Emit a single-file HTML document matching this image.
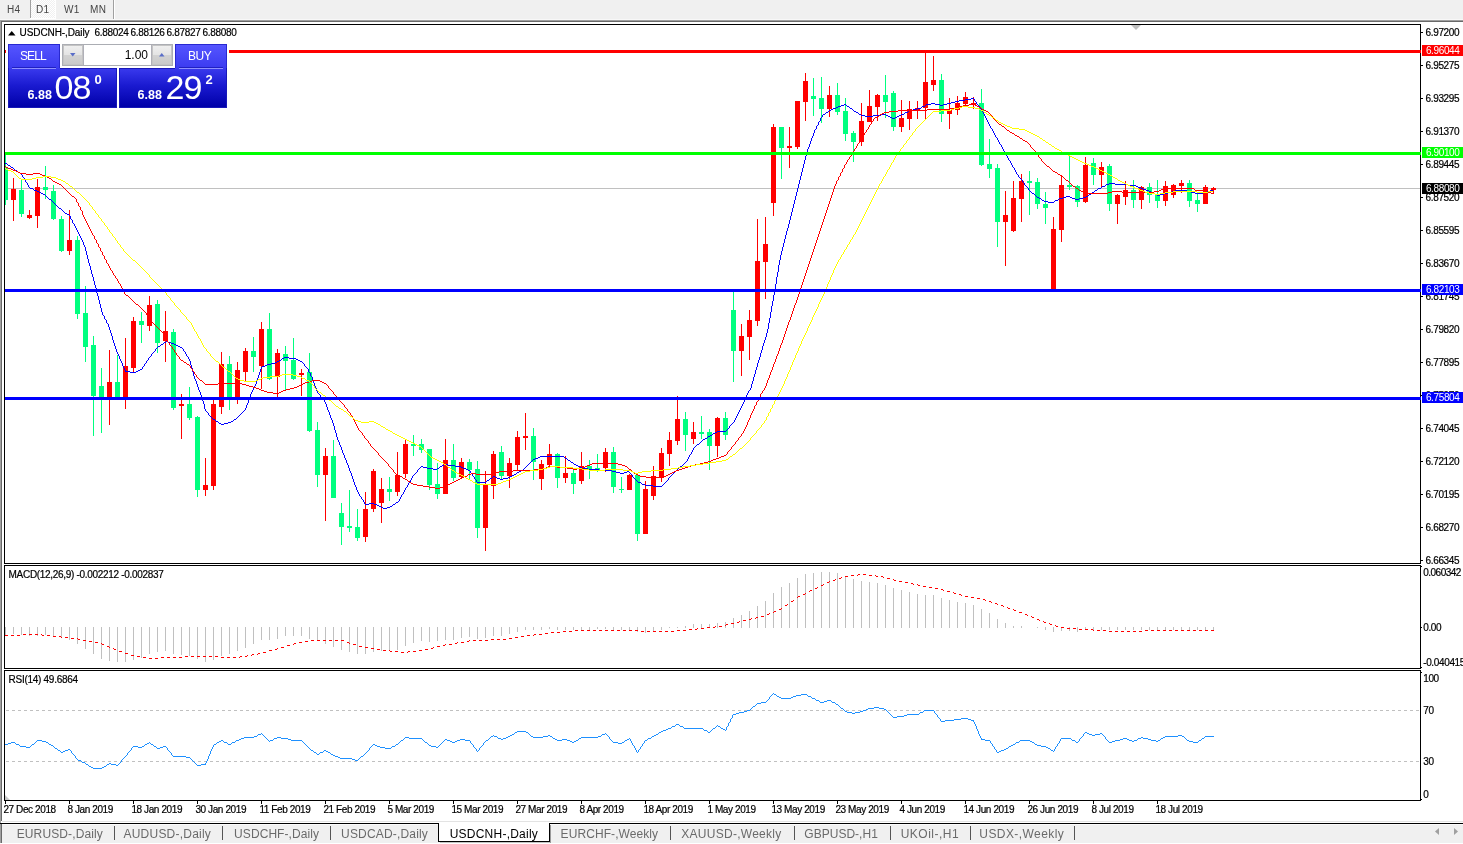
<!DOCTYPE html><html><head><meta charset="utf-8"><title>USDCNH-,Daily</title><style>
html,body{margin:0;padding:0;background:#fff}
body{width:1463px;height:844px;position:relative;overflow:hidden;font-family:"Liberation Sans",sans-serif}
.a{position:absolute}
.t{position:absolute;font-size:10px;line-height:10px;letter-spacing:-0.36px;color:#000;white-space:nowrap;-webkit-text-stroke:0.2px #000}
.pl{left:1425.6px}
.box{position:absolute;left:1422px;width:41px;height:11px}
.box span{position:absolute;left:3.9px;top:1px;font-size:10px;line-height:10px;letter-spacing:-0.36px;color:#fff;white-space:nowrap}
.tb{position:absolute;top:5px;font-size:10px;line-height:10px;color:#444;white-space:nowrap;letter-spacing:0.4px}
.tab{position:absolute;top:827px;font-size:12px;line-height:14px;color:#6a6a6a;white-space:nowrap}
.sep{position:absolute;top:826px;width:1px;height:14px;background:#555}

</style></head><body>
<div class="a" style="left:0;top:0;width:1463px;height:20px;background:#f0f0f0"></div>
<div class="a" style="left:31px;top:0;width:24px;height:18px;background-color:#f8f8f8;background-image:conic-gradient(#fff 25%,#f0f0f0 0 50%,#fff 0 75%,#f0f0f0 0);background-size:2px 2px"></div>
<div class="a" style="left:55px;top:0;width:1px;height:19px;background:#fff"></div>
<div class="a" style="left:30px;top:18px;width:26px;height:1px;background:#fff"></div>
<div class="a" style="left:30px;top:0;width:1px;height:18px;background:#a0a0a0"></div>
<div class="a" style="left:113px;top:0;width:1px;height:20px;background:#a0a0a0"></div>
<div class="a" style="left:114px;top:0;width:1px;height:20px;background:#fff"></div>
<div class="a" style="left:0;top:19px;width:1463px;height:1px;background:#f8f8f8"></div>
<div class="a" style="left:0;top:20px;width:1463px;height:1px;background:#a0a0a0"></div>
<div class="a" style="left:0;top:21px;width:1463px;height:1px;background:#696969"></div>
<div class="tb" style="left:7px">H4</div>
<div class="tb" style="left:36px">D1</div>
<div class="tb" style="left:64px">W1</div>
<div class="tb" style="left:90px">MN</div>
<div class="a" style="left:0;top:20px;width:1px;height:823px;background:#a0a0a0"></div>
<div class="a" style="left:1px;top:21px;width:1px;height:800px;background:#696969"></div>
<svg class="a" style="left:0;top:0" width="1463" height="844" viewBox="0 0 1463 844">
<defs><clipPath id="cm"><rect x="5" y="25" width="1415" height="538"/></clipPath></defs>
<g shape-rendering="crispEdges">
<rect x="4.5" y="24.5" width="1416" height="539" fill="none" stroke="#000" stroke-width="1"/>
<rect x="4.5" y="565.5" width="1416" height="103" fill="none" stroke="#000" stroke-width="1"/>
<rect x="4.5" y="670.5" width="1416" height="130" fill="none" stroke="#000" stroke-width="1"/>
<rect x="5" y="188" width="1415" height="1" fill="#c0c0c0"/>
<g clip-path="url(#cm)">
<rect x="5" y="155" width="1" height="50" fill="#00ff7f"/>
<rect x="3" y="168" width="5" height="32" fill="#00ff7f"/>
<rect x="13" y="178" width="1" height="43" fill="#ff0000"/>
<rect x="11" y="189" width="5" height="11" fill="#ff0000"/>
<rect x="21" y="180" width="1" height="37" fill="#00ff7f"/>
<rect x="19" y="190" width="5" height="24" fill="#00ff7f"/>
<rect x="29" y="210" width="1" height="9" fill="#ff0000"/>
<rect x="27" y="215" width="5" height="3" fill="#ff0000"/>
<rect x="37" y="179" width="1" height="49" fill="#ff0000"/>
<rect x="35" y="187" width="5" height="29" fill="#ff0000"/>
<rect x="45" y="166" width="1" height="33" fill="#00ff7f"/>
<rect x="43" y="187" width="5" height="3" fill="#00ff7f"/>
<rect x="53" y="185" width="1" height="35" fill="#00ff7f"/>
<rect x="51" y="191" width="5" height="28" fill="#00ff7f"/>
<rect x="61" y="216" width="1" height="36" fill="#00ff7f"/>
<rect x="59" y="219" width="5" height="32" fill="#00ff7f"/>
<rect x="69" y="210" width="1" height="45" fill="#ff0000"/>
<rect x="67" y="240" width="5" height="11" fill="#ff0000"/>
<rect x="77" y="236" width="1" height="83" fill="#00ff7f"/>
<rect x="75" y="240" width="5" height="74" fill="#00ff7f"/>
<rect x="85" y="286" width="1" height="76" fill="#00ff7f"/>
<rect x="83" y="313" width="5" height="34" fill="#00ff7f"/>
<rect x="93" y="336" width="1" height="100" fill="#00ff7f"/>
<rect x="91" y="345" width="5" height="51" fill="#00ff7f"/>
<rect x="101" y="368" width="1" height="65" fill="#00ff7f"/>
<rect x="99" y="386" width="5" height="14" fill="#00ff7f"/>
<rect x="109" y="350" width="1" height="75" fill="#ff0000"/>
<rect x="107" y="382" width="5" height="17" fill="#ff0000"/>
<rect x="117" y="355" width="1" height="45" fill="#00ff7f"/>
<rect x="115" y="382" width="5" height="17" fill="#00ff7f"/>
<rect x="125" y="338" width="1" height="71" fill="#ff0000"/>
<rect x="123" y="366" width="5" height="33" fill="#ff0000"/>
<rect x="133" y="317" width="1" height="55" fill="#ff0000"/>
<rect x="131" y="321" width="5" height="47" fill="#ff0000"/>
<rect x="141" y="312" width="1" height="31" fill="#00ff7f"/>
<rect x="139" y="321" width="5" height="4" fill="#00ff7f"/>
<rect x="149" y="296" width="1" height="35" fill="#ff0000"/>
<rect x="147" y="305" width="5" height="21" fill="#ff0000"/>
<rect x="157" y="300" width="1" height="53" fill="#00ff7f"/>
<rect x="155" y="304" width="5" height="39" fill="#00ff7f"/>
<rect x="165" y="311" width="1" height="51" fill="#ff0000"/>
<rect x="163" y="331" width="5" height="10" fill="#ff0000"/>
<rect x="173" y="329" width="1" height="81" fill="#00ff7f"/>
<rect x="171" y="332" width="5" height="76" fill="#00ff7f"/>
<rect x="181" y="394" width="1" height="45" fill="#ff0000"/>
<rect x="179" y="404" width="5" height="2" fill="#ff0000"/>
<rect x="189" y="387" width="1" height="33" fill="#00ff7f"/>
<rect x="187" y="404" width="5" height="14" fill="#00ff7f"/>
<rect x="197" y="416" width="1" height="81" fill="#00ff7f"/>
<rect x="195" y="417" width="5" height="73" fill="#00ff7f"/>
<rect x="205" y="458" width="1" height="38" fill="#ff0000"/>
<rect x="203" y="485" width="5" height="5" fill="#ff0000"/>
<rect x="213" y="399" width="1" height="91" fill="#ff0000"/>
<rect x="211" y="404" width="5" height="82" fill="#ff0000"/>
<rect x="221" y="352" width="1" height="62" fill="#ff0000"/>
<rect x="219" y="364" width="5" height="43" fill="#ff0000"/>
<rect x="229" y="356" width="1" height="54" fill="#00ff7f"/>
<rect x="227" y="364" width="5" height="34" fill="#00ff7f"/>
<rect x="237" y="362" width="1" height="42" fill="#ff0000"/>
<rect x="235" y="370" width="5" height="28" fill="#ff0000"/>
<rect x="245" y="348" width="1" height="33" fill="#ff0000"/>
<rect x="243" y="351" width="5" height="21" fill="#ff0000"/>
<rect x="253" y="337" width="1" height="35" fill="#00ff7f"/>
<rect x="251" y="351" width="5" height="6" fill="#00ff7f"/>
<rect x="261" y="322" width="1" height="67" fill="#ff0000"/>
<rect x="259" y="329" width="5" height="37" fill="#ff0000"/>
<rect x="269" y="313" width="1" height="67" fill="#00ff7f"/>
<rect x="267" y="329" width="5" height="50" fill="#00ff7f"/>
<rect x="277" y="349" width="1" height="48" fill="#ff0000"/>
<rect x="275" y="353" width="5" height="24" fill="#ff0000"/>
<rect x="285" y="346" width="1" height="44" fill="#00ff7f"/>
<rect x="283" y="354" width="5" height="7" fill="#00ff7f"/>
<rect x="293" y="338" width="1" height="42" fill="#00ff7f"/>
<rect x="291" y="360" width="5" height="19" fill="#00ff7f"/>
<rect x="301" y="369" width="1" height="27" fill="#ff0000"/>
<rect x="299" y="373" width="5" height="2" fill="#ff0000"/>
<rect x="309" y="353" width="1" height="79" fill="#00ff7f"/>
<rect x="307" y="372" width="5" height="59" fill="#00ff7f"/>
<rect x="317" y="422" width="1" height="65" fill="#00ff7f"/>
<rect x="315" y="430" width="5" height="45" fill="#00ff7f"/>
<rect x="325" y="448" width="1" height="73" fill="#ff0000"/>
<rect x="323" y="456" width="5" height="19" fill="#ff0000"/>
<rect x="333" y="440" width="1" height="58" fill="#00ff7f"/>
<rect x="331" y="456" width="5" height="42" fill="#00ff7f"/>
<rect x="341" y="503" width="1" height="42" fill="#00ff7f"/>
<rect x="339" y="513" width="5" height="14" fill="#00ff7f"/>
<rect x="349" y="490" width="1" height="42" fill="#00ff7f"/>
<rect x="347" y="526" width="5" height="2" fill="#00ff7f"/>
<rect x="357" y="509" width="1" height="32" fill="#00ff7f"/>
<rect x="355" y="527" width="5" height="11" fill="#00ff7f"/>
<rect x="365" y="492" width="1" height="50" fill="#ff0000"/>
<rect x="363" y="509" width="5" height="28" fill="#ff0000"/>
<rect x="373" y="469" width="1" height="43" fill="#ff0000"/>
<rect x="371" y="471" width="5" height="38" fill="#ff0000"/>
<rect x="381" y="478" width="1" height="45" fill="#ff0000"/>
<rect x="379" y="489" width="5" height="14" fill="#ff0000"/>
<rect x="389" y="477" width="1" height="24" fill="#00ff7f"/>
<rect x="387" y="489" width="5" height="3" fill="#00ff7f"/>
<rect x="397" y="452" width="1" height="44" fill="#ff0000"/>
<rect x="395" y="475" width="5" height="17" fill="#ff0000"/>
<rect x="405" y="439" width="1" height="39" fill="#ff0000"/>
<rect x="403" y="444" width="5" height="30" fill="#ff0000"/>
<rect x="413" y="435" width="1" height="21" fill="#00ff7f"/>
<rect x="411" y="444" width="5" height="2" fill="#00ff7f"/>
<rect x="421" y="439" width="1" height="14" fill="#00ff7f"/>
<rect x="419" y="444" width="5" height="6" fill="#00ff7f"/>
<rect x="429" y="449" width="1" height="41" fill="#00ff7f"/>
<rect x="427" y="449" width="5" height="36" fill="#00ff7f"/>
<rect x="437" y="463" width="1" height="36" fill="#00ff7f"/>
<rect x="435" y="484" width="5" height="10" fill="#00ff7f"/>
<rect x="445" y="439" width="1" height="55" fill="#ff0000"/>
<rect x="443" y="460" width="5" height="34" fill="#ff0000"/>
<rect x="453" y="444" width="1" height="37" fill="#00ff7f"/>
<rect x="451" y="460" width="5" height="18" fill="#00ff7f"/>
<rect x="461" y="458" width="1" height="20" fill="#ff0000"/>
<rect x="459" y="462" width="5" height="15" fill="#ff0000"/>
<rect x="469" y="459" width="1" height="21" fill="#00ff7f"/>
<rect x="467" y="462" width="5" height="8" fill="#00ff7f"/>
<rect x="477" y="461" width="1" height="77" fill="#00ff7f"/>
<rect x="475" y="469" width="5" height="59" fill="#00ff7f"/>
<rect x="485" y="471" width="1" height="80" fill="#ff0000"/>
<rect x="483" y="485" width="5" height="43" fill="#ff0000"/>
<rect x="493" y="451" width="1" height="48" fill="#ff0000"/>
<rect x="491" y="454" width="5" height="32" fill="#ff0000"/>
<rect x="501" y="446" width="1" height="33" fill="#00ff7f"/>
<rect x="499" y="452" width="5" height="24" fill="#00ff7f"/>
<rect x="509" y="458" width="1" height="30" fill="#ff0000"/>
<rect x="507" y="463" width="5" height="13" fill="#ff0000"/>
<rect x="517" y="431" width="1" height="40" fill="#ff0000"/>
<rect x="515" y="437" width="5" height="28" fill="#ff0000"/>
<rect x="525" y="413" width="1" height="37" fill="#ff0000"/>
<rect x="523" y="436" width="5" height="2" fill="#ff0000"/>
<rect x="533" y="428" width="1" height="52" fill="#00ff7f"/>
<rect x="531" y="436" width="5" height="26" fill="#00ff7f"/>
<rect x="541" y="460" width="1" height="30" fill="#ff0000"/>
<rect x="539" y="464" width="5" height="15" fill="#ff0000"/>
<rect x="549" y="444" width="1" height="23" fill="#ff0000"/>
<rect x="547" y="454" width="5" height="11" fill="#ff0000"/>
<rect x="557" y="453" width="1" height="35" fill="#00ff7f"/>
<rect x="555" y="454" width="5" height="24" fill="#00ff7f"/>
<rect x="565" y="456" width="1" height="27" fill="#ff0000"/>
<rect x="563" y="473" width="5" height="5" fill="#ff0000"/>
<rect x="573" y="470" width="1" height="24" fill="#00ff7f"/>
<rect x="571" y="473" width="5" height="11" fill="#00ff7f"/>
<rect x="581" y="452" width="1" height="32" fill="#ff0000"/>
<rect x="579" y="466" width="5" height="15" fill="#ff0000"/>
<rect x="589" y="460" width="1" height="19" fill="#00ff7f"/>
<rect x="587" y="466" width="5" height="4" fill="#00ff7f"/>
<rect x="597" y="454" width="1" height="18" fill="#00ff7f"/>
<rect x="595" y="468" width="5" height="2" fill="#00ff7f"/>
<rect x="605" y="448" width="1" height="24" fill="#ff0000"/>
<rect x="603" y="452" width="5" height="16" fill="#ff0000"/>
<rect x="613" y="447" width="1" height="46" fill="#00ff7f"/>
<rect x="611" y="452" width="5" height="35" fill="#00ff7f"/>
<rect x="621" y="477" width="1" height="16" fill="#00ff7f"/>
<rect x="619" y="489" width="5" height="1" fill="#00ff7f"/>
<rect x="629" y="474" width="1" height="16" fill="#ff0000"/>
<rect x="627" y="475" width="5" height="15" fill="#ff0000"/>
<rect x="637" y="475" width="1" height="66" fill="#00ff7f"/>
<rect x="635" y="475" width="5" height="59" fill="#00ff7f"/>
<rect x="645" y="481" width="1" height="53" fill="#ff0000"/>
<rect x="643" y="489" width="5" height="45" fill="#ff0000"/>
<rect x="653" y="466" width="1" height="34" fill="#ff0000"/>
<rect x="651" y="476" width="5" height="20" fill="#ff0000"/>
<rect x="661" y="448" width="1" height="34" fill="#ff0000"/>
<rect x="659" y="453" width="5" height="24" fill="#ff0000"/>
<rect x="669" y="432" width="1" height="34" fill="#ff0000"/>
<rect x="667" y="440" width="5" height="14" fill="#ff0000"/>
<rect x="677" y="396" width="1" height="49" fill="#ff0000"/>
<rect x="675" y="419" width="5" height="22" fill="#ff0000"/>
<rect x="685" y="412" width="1" height="39" fill="#00ff7f"/>
<rect x="683" y="419" width="5" height="16" fill="#00ff7f"/>
<rect x="693" y="422" width="1" height="22" fill="#ff0000"/>
<rect x="691" y="432" width="5" height="7" fill="#ff0000"/>
<rect x="701" y="416" width="1" height="23" fill="#00ff7f"/>
<rect x="699" y="432" width="5" height="2" fill="#00ff7f"/>
<rect x="709" y="429" width="1" height="41" fill="#00ff7f"/>
<rect x="707" y="432" width="5" height="14" fill="#00ff7f"/>
<rect x="717" y="417" width="1" height="40" fill="#ff0000"/>
<rect x="715" y="418" width="5" height="28" fill="#ff0000"/>
<rect x="725" y="412" width="1" height="28" fill="#00ff7f"/>
<rect x="723" y="418" width="5" height="17" fill="#00ff7f"/>
<rect x="733" y="289" width="1" height="93" fill="#00ff7f"/>
<rect x="731" y="310" width="5" height="41" fill="#00ff7f"/>
<rect x="741" y="324" width="1" height="52" fill="#ff0000"/>
<rect x="739" y="336" width="5" height="15" fill="#ff0000"/>
<rect x="749" y="310" width="1" height="50" fill="#ff0000"/>
<rect x="747" y="320" width="5" height="17" fill="#ff0000"/>
<rect x="757" y="219" width="1" height="107" fill="#ff0000"/>
<rect x="755" y="261" width="5" height="60" fill="#ff0000"/>
<rect x="765" y="217" width="1" height="82" fill="#ff0000"/>
<rect x="763" y="244" width="5" height="18" fill="#ff0000"/>
<rect x="773" y="124" width="1" height="92" fill="#ff0000"/>
<rect x="771" y="127" width="5" height="76" fill="#ff0000"/>
<rect x="781" y="127" width="1" height="52" fill="#00ff7f"/>
<rect x="779" y="127" width="5" height="21" fill="#00ff7f"/>
<rect x="789" y="127" width="1" height="41" fill="#ff0000"/>
<rect x="787" y="146" width="5" height="2" fill="#ff0000"/>
<rect x="797" y="101" width="1" height="48" fill="#ff0000"/>
<rect x="795" y="101" width="5" height="46" fill="#ff0000"/>
<rect x="805" y="73" width="1" height="48" fill="#ff0000"/>
<rect x="803" y="81" width="5" height="21" fill="#ff0000"/>
<rect x="813" y="78" width="1" height="38" fill="#00ff7f"/>
<rect x="811" y="96" width="5" height="3" fill="#00ff7f"/>
<rect x="821" y="77" width="1" height="46" fill="#00ff7f"/>
<rect x="819" y="98" width="5" height="11" fill="#00ff7f"/>
<rect x="829" y="86" width="1" height="31" fill="#ff0000"/>
<rect x="827" y="95" width="5" height="14" fill="#ff0000"/>
<rect x="837" y="83" width="1" height="32" fill="#00ff7f"/>
<rect x="835" y="95" width="5" height="17" fill="#00ff7f"/>
<rect x="845" y="98" width="1" height="43" fill="#00ff7f"/>
<rect x="843" y="111" width="5" height="23" fill="#00ff7f"/>
<rect x="853" y="131" width="1" height="31" fill="#00ff7f"/>
<rect x="851" y="133" width="5" height="9" fill="#00ff7f"/>
<rect x="861" y="103" width="1" height="43" fill="#ff0000"/>
<rect x="859" y="121" width="5" height="21" fill="#ff0000"/>
<rect x="869" y="90" width="1" height="32" fill="#ff0000"/>
<rect x="867" y="106" width="5" height="16" fill="#ff0000"/>
<rect x="877" y="94" width="1" height="27" fill="#ff0000"/>
<rect x="875" y="95" width="5" height="12" fill="#ff0000"/>
<rect x="885" y="75" width="1" height="43" fill="#00ff7f"/>
<rect x="883" y="95" width="5" height="7" fill="#00ff7f"/>
<rect x="893" y="91" width="1" height="40" fill="#00ff7f"/>
<rect x="891" y="93" width="5" height="34" fill="#00ff7f"/>
<rect x="901" y="100" width="1" height="32" fill="#ff0000"/>
<rect x="899" y="118" width="5" height="9" fill="#ff0000"/>
<rect x="909" y="101" width="1" height="29" fill="#ff0000"/>
<rect x="907" y="109" width="5" height="10" fill="#ff0000"/>
<rect x="917" y="101" width="1" height="18" fill="#ff0000"/>
<rect x="915" y="108" width="5" height="2" fill="#ff0000"/>
<rect x="925" y="53" width="1" height="66" fill="#ff0000"/>
<rect x="923" y="82" width="5" height="26" fill="#ff0000"/>
<rect x="933" y="56" width="1" height="35" fill="#ff0000"/>
<rect x="931" y="80" width="5" height="5" fill="#ff0000"/>
<rect x="941" y="74" width="1" height="48" fill="#00ff7f"/>
<rect x="939" y="80" width="5" height="34" fill="#00ff7f"/>
<rect x="949" y="98" width="1" height="31" fill="#ff0000"/>
<rect x="947" y="110" width="5" height="4" fill="#ff0000"/>
<rect x="957" y="96" width="1" height="19" fill="#ff0000"/>
<rect x="955" y="103" width="5" height="7" fill="#ff0000"/>
<rect x="965" y="92" width="1" height="14" fill="#ff0000"/>
<rect x="963" y="97" width="5" height="7" fill="#ff0000"/>
<rect x="973" y="97" width="1" height="12" fill="#ff0000"/>
<rect x="971" y="103" width="5" height="2" fill="#ff0000"/>
<rect x="981" y="89" width="1" height="77" fill="#00ff7f"/>
<rect x="979" y="103" width="5" height="62" fill="#00ff7f"/>
<rect x="989" y="139" width="1" height="39" fill="#00ff7f"/>
<rect x="987" y="164" width="5" height="5" fill="#00ff7f"/>
<rect x="997" y="164" width="1" height="83" fill="#00ff7f"/>
<rect x="995" y="168" width="5" height="54" fill="#00ff7f"/>
<rect x="1005" y="191" width="1" height="75" fill="#ff0000"/>
<rect x="1003" y="215" width="5" height="7" fill="#ff0000"/>
<rect x="1013" y="181" width="1" height="51" fill="#ff0000"/>
<rect x="1011" y="198" width="5" height="33" fill="#ff0000"/>
<rect x="1021" y="174" width="1" height="48" fill="#ff0000"/>
<rect x="1019" y="181" width="5" height="18" fill="#ff0000"/>
<rect x="1029" y="171" width="1" height="44" fill="#00ff7f"/>
<rect x="1027" y="181" width="5" height="2" fill="#00ff7f"/>
<rect x="1037" y="178" width="1" height="31" fill="#00ff7f"/>
<rect x="1035" y="182" width="5" height="22" fill="#00ff7f"/>
<rect x="1045" y="192" width="1" height="32" fill="#00ff7f"/>
<rect x="1043" y="204" width="5" height="4" fill="#00ff7f"/>
<rect x="1053" y="217" width="1" height="74" fill="#ff0000"/>
<rect x="1051" y="229" width="5" height="60" fill="#ff0000"/>
<rect x="1061" y="176" width="1" height="66" fill="#ff0000"/>
<rect x="1059" y="185" width="5" height="45" fill="#ff0000"/>
<rect x="1069" y="156" width="1" height="34" fill="#00ff7f"/>
<rect x="1067" y="185" width="5" height="2" fill="#00ff7f"/>
<rect x="1077" y="185" width="1" height="22" fill="#00ff7f"/>
<rect x="1075" y="186" width="5" height="16" fill="#00ff7f"/>
<rect x="1085" y="157" width="1" height="46" fill="#ff0000"/>
<rect x="1083" y="165" width="5" height="37" fill="#ff0000"/>
<rect x="1093" y="158" width="1" height="27" fill="#00ff7f"/>
<rect x="1091" y="163" width="5" height="12" fill="#00ff7f"/>
<rect x="1101" y="162" width="1" height="25" fill="#ff0000"/>
<rect x="1099" y="167" width="5" height="8" fill="#ff0000"/>
<rect x="1109" y="164" width="1" height="47" fill="#00ff7f"/>
<rect x="1107" y="166" width="5" height="38" fill="#00ff7f"/>
<rect x="1117" y="194" width="1" height="30" fill="#ff0000"/>
<rect x="1115" y="195" width="5" height="9" fill="#ff0000"/>
<rect x="1125" y="181" width="1" height="24" fill="#ff0000"/>
<rect x="1123" y="190" width="5" height="7" fill="#ff0000"/>
<rect x="1133" y="180" width="1" height="28" fill="#00ff7f"/>
<rect x="1131" y="190" width="5" height="10" fill="#00ff7f"/>
<rect x="1141" y="186" width="1" height="23" fill="#ff0000"/>
<rect x="1139" y="187" width="5" height="13" fill="#ff0000"/>
<rect x="1149" y="183" width="1" height="20" fill="#00ff7f"/>
<rect x="1147" y="187" width="5" height="8" fill="#00ff7f"/>
<rect x="1157" y="180" width="1" height="28" fill="#00ff7f"/>
<rect x="1155" y="195" width="5" height="6" fill="#00ff7f"/>
<rect x="1165" y="181" width="1" height="25" fill="#ff0000"/>
<rect x="1163" y="186" width="5" height="15" fill="#ff0000"/>
<rect x="1173" y="184" width="1" height="14" fill="#ff0000"/>
<rect x="1171" y="185" width="5" height="10" fill="#ff0000"/>
<rect x="1181" y="180" width="1" height="13" fill="#ff0000"/>
<rect x="1179" y="183" width="5" height="3" fill="#ff0000"/>
<rect x="1189" y="180" width="1" height="27" fill="#00ff7f"/>
<rect x="1187" y="183" width="5" height="18" fill="#00ff7f"/>
<rect x="1197" y="194" width="1" height="18" fill="#00ff7f"/>
<rect x="1195" y="200" width="5" height="4" fill="#00ff7f"/>
<rect x="1205" y="185" width="1" height="19" fill="#ff0000"/>
<rect x="1203" y="187" width="5" height="17" fill="#ff0000"/>
<rect x="1213" y="187" width="1" height="7" fill="#ff0000"/>
<rect x="1211" y="188" width="5" height="2" fill="#ff0000"/>
<path d="M4.5 162v1M5.5 163v1M6.5 163v1M7.5 164v1M8.5 165v1M9.5 165v1M10.5 166v1M11.5 167v1M12.5 167v1M13.5 168v1M14.5 169v1M15.5 170v1M16.5 170v1M17.5 171v1M18.5 172v1M19.5 172v1M20.5 173v1M21.5 174v1M22.5 175v2M23.5 177v1M24.5 178v2M25.5 180v2M26.5 182v1M27.5 183v2M28.5 185v2M29.5 187v1M30.5 188v1M31.5 188v1M32.5 188v1M33.5 189v1M34.5 190v1M35.5 190v1M36.5 190v1M37.5 191v1M38.5 191v1M39.5 192v1M40.5 192v1M41.5 193v1M42.5 193v1M43.5 194v1M44.5 194v1M45.5 195v1M46.5 196v1M47.5 197v1M48.5 198v1M49.5 199v1M50.5 199v1M51.5 200v1M52.5 201v1M53.5 202v1M54.5 203v1M55.5 204v1M56.5 205v1M57.5 206v1M58.5 207v1M59.5 208v1M60.5 208v1M61.5 209v1M62.5 210v1M63.5 211v1M64.5 212v1M65.5 213v1M66.5 213v1M67.5 214v1M68.5 214v1M69.5 215v1M70.5 216v3M71.5 219v1M72.5 220v3M73.5 223v1M74.5 224v2M75.5 226v2M76.5 228v2M77.5 230v2M78.5 232v2M79.5 234v2M80.5 236v2M81.5 238v2M82.5 240v2M83.5 242v3M84.5 245v2M85.5 247v4M86.5 251v4M87.5 255v4M88.5 259v4M89.5 263v3M90.5 266v4M91.5 270v4M92.5 274v3M93.5 277v4M94.5 281v4M95.5 285v3M96.5 288v5M97.5 293v3M98.5 296v4M99.5 300v4M100.5 304v4M101.5 308v4M102.5 312v3M103.5 315v1M104.5 316v3M105.5 319v1M106.5 320v3M107.5 323v1M108.5 324v3M109.5 327v3M110.5 330v3M111.5 333v3M112.5 336v4M113.5 340v3M114.5 343v3M115.5 346v3M116.5 349v3M117.5 352v2M118.5 354v2M119.5 356v3M120.5 359v2M121.5 361v2M122.5 363v3M123.5 366v2M124.5 368v2M125.5 370v2M126.5 371v1M127.5 371v1M128.5 371v1M129.5 371v1M130.5 372v1M131.5 372v1M132.5 372v1M133.5 372v1M134.5 372v1M135.5 372v1M136.5 371v1M137.5 371v1M138.5 370v1M139.5 370v1M140.5 369v1M141.5 369v1M142.5 367v2M143.5 366v1M144.5 364v2M145.5 363v1M146.5 361v2M147.5 360v1M148.5 358v2M149.5 357v1M150.5 356v1M151.5 354v2M152.5 353v1M153.5 352v1M154.5 351v1M155.5 349v2M156.5 348v1M157.5 347v1M158.5 346v1M159.5 346v1M160.5 345v1M161.5 344v1M162.5 344v1M163.5 343v1M164.5 342v1M165.5 342v1M166.5 341v1M167.5 341v1M168.5 342v1M169.5 342v1M170.5 342v1M171.5 343v1M172.5 343v1M173.5 343v1M174.5 344v1M175.5 344v1M176.5 345v1M177.5 345v1M178.5 346v1M179.5 346v1M180.5 347v1M181.5 347v1M182.5 348v1M183.5 349v2M184.5 351v1M185.5 352v2M186.5 354v2M187.5 356v1M188.5 357v2M189.5 359v2M190.5 361v4M191.5 365v3M192.5 368v4M193.5 372v4M194.5 376v3M195.5 379v2M196.5 381v3M197.5 384v3M198.5 387v3M199.5 390v2M200.5 392v3M201.5 395v2M202.5 397v4M203.5 401v3M204.5 404v5M205.5 409v2M206.5 411v1M207.5 412v1M208.5 413v2M209.5 415v1M210.5 416v1M211.5 417v1M212.5 418v1M213.5 419v1M214.5 419v1M215.5 420v1M216.5 421v1M217.5 421v1M218.5 422v1M219.5 423v1M220.5 423v1M221.5 424v1M222.5 424v1M223.5 424v1M224.5 423v1M225.5 423v1M226.5 423v1M227.5 423v1M228.5 422v1M229.5 422v1M230.5 422v1M231.5 421v1M232.5 421v1M233.5 420v1M234.5 419v1M235.5 419v1M236.5 418v1M237.5 417v1M238.5 416v1M239.5 415v1M240.5 414v1M241.5 413v1M242.5 412v1M243.5 411v1M244.5 410v1M245.5 408v2M246.5 405v3M247.5 403v2M248.5 400v3M249.5 397v3M250.5 394v3M251.5 392v2M252.5 390v2M253.5 388v2M254.5 386v2M255.5 384v2M256.5 381v3M257.5 378v3M258.5 375v3M259.5 372v3M260.5 369v3M261.5 367v2M262.5 366v1M263.5 366v1M264.5 366v1M265.5 365v1M266.5 365v1M267.5 364v1M268.5 364v1M269.5 364v1M270.5 364v1M271.5 363v1M272.5 363v1M273.5 363v1M274.5 363v1M275.5 362v1M276.5 362v1M277.5 361v1M278.5 361v1M279.5 360v1M280.5 360v1M281.5 359v1M282.5 358v1M283.5 358v1M284.5 357v1M285.5 357v1M286.5 357v1M287.5 357v1M288.5 357v1M289.5 358v1M290.5 358v1M291.5 358v1M292.5 358v1M293.5 358v1M294.5 358v1M295.5 358v1M296.5 359v1M297.5 359v1M298.5 360v1M299.5 360v1M300.5 361v1M301.5 361v1M302.5 362v1M303.5 363v1M304.5 364v2M305.5 366v1M306.5 367v1M307.5 368v1M308.5 369v3M309.5 372v1M310.5 373v3M311.5 376v1M312.5 377v3M313.5 380v3M314.5 383v3M315.5 386v2M316.5 388v3M317.5 391v2M318.5 393v1M319.5 394v1M320.5 395v2M321.5 397v1M322.5 398v1M323.5 399v1M324.5 400v2M325.5 402v2M326.5 404v3M327.5 407v3M328.5 410v2M329.5 412v3M330.5 415v3M331.5 418v2M332.5 420v3M333.5 423v3M334.5 426v4M335.5 430v3M336.5 433v4M337.5 437v3M338.5 440v2M339.5 442v3M340.5 445v2M341.5 447v3M342.5 450v3M343.5 453v2M344.5 455v3M345.5 458v2M346.5 460v3M347.5 463v2M348.5 465v3M349.5 468v3M350.5 471v2M351.5 473v3M352.5 476v3M353.5 479v3M354.5 482v3M355.5 485v2M356.5 487v3M357.5 490v2M358.5 492v2M359.5 494v2M360.5 496v1M361.5 497v2M362.5 499v1M363.5 500v2M364.5 502v2M365.5 504v1M366.5 504v1M367.5 504v1M368.5 504v1M369.5 503v1M370.5 503v1M371.5 503v1M372.5 503v1M373.5 503v1M374.5 504v1M375.5 504v1M376.5 504v1M377.5 505v1M378.5 505v1M379.5 506v1M380.5 506v1M381.5 507v1M382.5 507v1M383.5 508v1M384.5 508v1M385.5 508v1M386.5 508v1M387.5 507v1M388.5 507v1M389.5 507v1M390.5 506v1M391.5 506v1M392.5 505v1M393.5 504v1M394.5 504v1M395.5 503v1M396.5 502v1M397.5 502v1M398.5 501v1M399.5 499v2M400.5 497v2M401.5 495v2M402.5 494v1M403.5 492v2M404.5 490v2M405.5 488v2M406.5 487v1M407.5 485v2M408.5 483v2M409.5 482v1M410.5 480v2M411.5 478v2M412.5 476v2M413.5 475v1M414.5 474v1M415.5 473v1M416.5 472v1M417.5 470v2M418.5 469v1M419.5 468v1M420.5 467v1M421.5 466v1M422.5 466v1M423.5 467v1M424.5 467v1M425.5 467v1M426.5 467v1M427.5 468v1M428.5 468v1M429.5 468v1M430.5 468v1M431.5 468v1M432.5 468v1M433.5 469v1M434.5 469v1M435.5 469v1M436.5 469v1M437.5 468v1M438.5 468v1M439.5 467v1M440.5 466v1M441.5 466v1M442.5 465v1M443.5 465v1M444.5 464v1M445.5 464v1M446.5 464v1M447.5 464v1M448.5 465v1M449.5 465v1M450.5 465v1M451.5 465v1M452.5 465v1M453.5 465v1M454.5 465v1M455.5 466v1M456.5 466v1M457.5 466v1M458.5 466v1M459.5 466v1M460.5 466v1M461.5 467v1M462.5 467v1M463.5 468v1M464.5 468v1M465.5 468v1M466.5 469v1M467.5 469v1M468.5 470v1M469.5 470v1M470.5 471v2M471.5 473v1M472.5 474v2M473.5 476v1M474.5 477v2M475.5 479v1M476.5 480v2M477.5 482v1M478.5 482v1M479.5 482v1M480.5 482v1M481.5 482v1M482.5 482v1M483.5 482v1M484.5 482v1M485.5 482v1M486.5 481v1M487.5 480v1M488.5 480v1M489.5 479v1M490.5 478v1M491.5 478v1M492.5 477v1M493.5 476v1M494.5 476v1M495.5 477v1M496.5 477v1M497.5 478v1M498.5 478v1M499.5 478v1M500.5 479v1M501.5 479v1M502.5 479v1M503.5 478v1M504.5 478v1M505.5 478v1M506.5 478v1M507.5 478v1M508.5 477v1M509.5 477v1M510.5 476v1M511.5 476v1M512.5 475v1M513.5 475v1M514.5 474v1M515.5 474v1M516.5 473v1M517.5 472v1M518.5 472v1M519.5 471v1M520.5 471v1M521.5 470v1M522.5 470v1M523.5 469v1M524.5 468v1M525.5 467v1M526.5 466v1M527.5 465v1M528.5 464v1M529.5 463v1M530.5 462v1M531.5 461v1M532.5 460v1M533.5 459v1M534.5 459v1M535.5 458v1M536.5 458v1M537.5 458v1M538.5 457v1M539.5 457v1M540.5 456v1M541.5 456v1M542.5 456v1M543.5 456v1M544.5 456v1M545.5 456v1M546.5 456v1M547.5 456v1M548.5 456v1M549.5 456v1M550.5 456v1M551.5 456v1M552.5 456v1M553.5 456v1M554.5 456v1M555.5 456v1M556.5 456v1M557.5 456v1M558.5 456v1M559.5 456v1M560.5 456v1M561.5 456v1M562.5 456v1M563.5 456v1M564.5 457v1M565.5 458v1M566.5 458v1M567.5 459v1M568.5 460v1M569.5 460v1M570.5 461v1M571.5 462v1M572.5 462v1M573.5 463v1M574.5 464v1M575.5 464v1M576.5 465v1M577.5 465v1M578.5 466v1M579.5 466v1M580.5 467v1M581.5 467v1M582.5 467v1M583.5 468v1M584.5 468v1M585.5 468v1M586.5 468v1M587.5 468v1M588.5 469v1M589.5 469v1M590.5 469v1M591.5 469v1M592.5 469v1M593.5 469v1M594.5 469v1M595.5 469v1M596.5 469v1M597.5 469v1M598.5 469v1M599.5 470v1M600.5 470v1M601.5 470v1M602.5 470v1M603.5 470v1M604.5 470v1M605.5 470v1M606.5 470v1M607.5 470v1M608.5 470v1M609.5 470v1M610.5 470v1M611.5 470v1M612.5 471v1M613.5 471v1M614.5 471v1M615.5 471v1M616.5 472v1M617.5 472v1M618.5 472v1M619.5 472v1M620.5 473v1M621.5 473v1M622.5 473v1M623.5 473v1M624.5 472v1M625.5 472v1M626.5 472v1M627.5 471v1M628.5 471v1M629.5 472v1M630.5 473v1M631.5 474v1M632.5 475v2M633.5 477v1M634.5 478v1M635.5 479v1M636.5 480v1M637.5 481v1M638.5 482v1M639.5 482v1M640.5 482v1M641.5 483v1M642.5 484v1M643.5 484v1M644.5 484v1M645.5 485v1M646.5 485v1M647.5 485v1M648.5 485v1M649.5 485v1M650.5 485v1M651.5 485v1M652.5 485v1M653.5 486v1M654.5 486v1M655.5 486v1M656.5 486v1M657.5 486v1M658.5 486v1M659.5 486v1M660.5 486v1M661.5 486v1M662.5 485v1M663.5 484v1M664.5 483v1M665.5 482v1M666.5 481v1M667.5 480v1M668.5 478v2M669.5 477v1M670.5 476v1M671.5 475v1M672.5 474v1M673.5 473v1M674.5 472v1M675.5 471v1M676.5 470v1M677.5 469v1M678.5 468v1M679.5 467v1M680.5 466v1M681.5 466v1M682.5 465v1M683.5 464v1M684.5 463v1M685.5 462v1M686.5 461v1M687.5 459v2M688.5 457v2M689.5 455v2M690.5 454v1M691.5 452v2M692.5 450v2M693.5 448v2M694.5 447v1M695.5 446v1M696.5 445v1M697.5 444v1M698.5 444v1M699.5 443v1M700.5 442v1M701.5 441v1M702.5 440v1M703.5 439v1M704.5 439v1M705.5 438v1M706.5 438v1M707.5 437v1M708.5 436v1M709.5 436v1M710.5 435v1M711.5 435v1M712.5 434v1M713.5 433v1M714.5 433v1M715.5 432v1M716.5 432v1M717.5 431v1M718.5 431v1M719.5 431v1M720.5 431v1M721.5 431v1M722.5 431v1M723.5 431v1M724.5 431v1M725.5 431v1M726.5 430v1M727.5 429v1M728.5 428v1M729.5 426v2M730.5 425v1M731.5 424v1M732.5 423v1M733.5 422v1M734.5 420v2M735.5 418v2M736.5 416v2M737.5 414v2M738.5 412v2M739.5 410v2M740.5 408v2M741.5 406v2M742.5 404v2M743.5 402v2M744.5 399v3M745.5 397v2M746.5 395v2M747.5 393v2M748.5 391v2M749.5 390v1M750.5 388v2M751.5 384v4M752.5 381v3M753.5 377v4M754.5 374v3M755.5 370v4M756.5 367v3M757.5 363v4M758.5 360v3M759.5 357v3M760.5 353v4M761.5 350v3M762.5 346v4M763.5 343v3M764.5 340v3M765.5 337v3M766.5 333v4M767.5 329v4M768.5 323v6M769.5 318v5M770.5 312v6M771.5 306v6M772.5 301v5M773.5 295v6M774.5 289v6M775.5 284v5M776.5 277v7M777.5 272v5M778.5 265v7M779.5 260v5M780.5 255v5M781.5 251v4M782.5 247v4M783.5 243v4M784.5 239v4M785.5 235v4M786.5 231v4M787.5 228v3M788.5 224v4M789.5 220v4M790.5 216v4M791.5 212v4M792.5 208v4M793.5 204v4M794.5 200v4M795.5 196v4M796.5 192v4M797.5 188v4M798.5 184v4M799.5 180v4M800.5 176v4M801.5 172v4M802.5 168v4M803.5 164v4M804.5 160v4M805.5 156v4M806.5 152v4M807.5 149v3M808.5 147v2M809.5 144v3M810.5 141v3M811.5 138v3M812.5 136v2M813.5 133v3M814.5 130v3M815.5 129v1M816.5 126v3M817.5 125v1M818.5 122v3M819.5 121v1M820.5 118v3M821.5 117v1M822.5 115v2M823.5 114v1M824.5 114v1M825.5 113v1M826.5 112v1M827.5 112v1M828.5 111v1M829.5 110v1M830.5 110v1M831.5 109v1M832.5 109v1M833.5 108v1M834.5 108v1M835.5 108v1M836.5 107v1M837.5 107v1M838.5 106v1M839.5 106v1M840.5 106v1M841.5 105v1M842.5 105v1M843.5 105v1M844.5 104v1M845.5 104v1M846.5 105v1M847.5 106v1M848.5 106v1M849.5 107v1M850.5 108v1M851.5 108v1M852.5 109v1M853.5 110v1M854.5 111v1M855.5 111v1M856.5 112v1M857.5 112v1M858.5 113v1M859.5 114v1M860.5 114v1M861.5 115v1M862.5 115v1M863.5 115v1M864.5 115v1M865.5 116v1M866.5 116v1M867.5 116v1M868.5 116v1M869.5 116v1M870.5 116v1M871.5 116v1M872.5 116v1M873.5 115v1M874.5 115v1M875.5 115v1M876.5 115v1M877.5 115v1M878.5 115v1M879.5 115v1M880.5 115v1M881.5 114v1M882.5 114v1M883.5 114v1M884.5 114v1M885.5 114v1M886.5 115v1M887.5 115v1M888.5 116v1M889.5 116v1M890.5 117v1M891.5 117v1M892.5 118v1M893.5 118v1M894.5 118v1M895.5 117v1M896.5 117v1M897.5 116v1M898.5 116v1M899.5 115v1M900.5 115v1M901.5 114v1M902.5 114v1M903.5 114v1M904.5 113v1M905.5 112v1M906.5 112v1M907.5 112v1M908.5 111v1M909.5 110v1M910.5 110v1M911.5 110v1M912.5 110v1M913.5 109v1M914.5 109v1M915.5 109v1M916.5 109v1M917.5 108v1M918.5 108v1M919.5 108v1M920.5 108v1M921.5 107v1M922.5 106v1M923.5 106v1M924.5 106v1M925.5 105v1M926.5 104v1M927.5 104v1M928.5 104v1M929.5 104v1M930.5 104v1M931.5 103v1M932.5 103v1M933.5 103v1M934.5 103v1M935.5 104v1M936.5 104v1M937.5 104v1M938.5 104v1M939.5 104v1M940.5 105v1M941.5 105v1M942.5 105v1M943.5 104v1M944.5 104v1M945.5 104v1M946.5 104v1M947.5 103v1M948.5 103v1M949.5 103v1M950.5 103v1M951.5 102v1M952.5 102v1M953.5 102v1M954.5 102v1M955.5 101v1M956.5 101v1M957.5 101v1M958.5 101v1M959.5 100v1M960.5 100v1M961.5 100v1M962.5 100v1M963.5 100v1M964.5 100v1M965.5 99v1M966.5 99v1M967.5 99v1M968.5 99v1M969.5 99v1M970.5 99v1M971.5 98v1M972.5 98v1M973.5 98v1M974.5 99v2M975.5 101v1M976.5 102v2M977.5 104v1M978.5 105v1M979.5 106v2M980.5 108v1M981.5 109v2M982.5 111v1M983.5 112v2M984.5 114v2M985.5 116v2M986.5 118v2M987.5 120v2M988.5 122v2M989.5 124v2M990.5 126v2M991.5 128v1M992.5 129v2M993.5 131v2M994.5 133v2M995.5 135v2M996.5 137v1M997.5 138v2M998.5 140v2M999.5 142v2M1000.5 144v1M1001.5 145v2M1002.5 147v2M1003.5 149v2M1004.5 151v2M1005.5 153v1M1006.5 154v2M1007.5 156v2M1008.5 158v2M1009.5 160v1M1010.5 161v2M1011.5 163v2M1012.5 165v2M1013.5 167v1M1014.5 168v2M1015.5 170v2M1016.5 172v2M1017.5 174v1M1018.5 175v2M1019.5 177v1M1020.5 178v1M1021.5 179v1M1022.5 180v2M1023.5 182v1M1024.5 183v2M1025.5 185v1M1026.5 186v1M1027.5 187v1M1028.5 188v2M1029.5 190v1M1030.5 191v1M1031.5 192v1M1032.5 193v1M1033.5 193v1M1034.5 194v1M1035.5 195v1M1036.5 196v1M1037.5 197v1M1038.5 197v1M1039.5 198v1M1040.5 198v1M1041.5 199v1M1042.5 200v1M1043.5 200v1M1044.5 201v1M1045.5 201v1M1046.5 201v1M1047.5 201v1M1048.5 202v1M1049.5 202v1M1050.5 202v1M1051.5 202v1M1052.5 202v1M1053.5 202v1M1054.5 201v1M1055.5 200v1M1056.5 200v1M1057.5 200v1M1058.5 199v1M1059.5 198v1M1060.5 198v1M1061.5 198v1M1062.5 198v1M1063.5 197v1M1064.5 197v1M1065.5 197v1M1066.5 196v1M1067.5 196v1M1068.5 196v1M1069.5 196v1M1070.5 197v1M1071.5 197v1M1072.5 198v1M1073.5 198v1M1074.5 198v1M1075.5 199v1M1076.5 199v1M1077.5 199v1M1078.5 199v1M1079.5 198v1M1080.5 198v1M1081.5 198v1M1082.5 198v1M1083.5 197v1M1084.5 197v1M1085.5 197v1M1086.5 196v1M1087.5 196v1M1088.5 195v1M1089.5 194v1M1090.5 194v1M1091.5 193v1M1092.5 192v1M1093.5 192v1M1094.5 191v1M1095.5 190v1M1096.5 190v1M1097.5 189v1M1098.5 188v1M1099.5 188v1M1100.5 188v1M1101.5 187v1M1102.5 186v1M1103.5 186v1M1104.5 186v1M1105.5 185v1M1106.5 184v1M1107.5 184v1M1108.5 184v1M1109.5 183v1M1110.5 183v1M1111.5 183v1M1112.5 183v1M1113.5 183v1M1114.5 183v1M1115.5 184v1M1116.5 184v1M1117.5 184v1M1118.5 184v1M1119.5 184v1M1120.5 184v1M1121.5 184v1M1122.5 184v1M1123.5 184v1M1124.5 184v1M1125.5 184v1M1126.5 184v1M1127.5 184v1M1128.5 185v1M1129.5 185v1M1130.5 185v1M1131.5 185v1M1132.5 185v1M1133.5 185v1M1134.5 185v1M1135.5 185v1M1136.5 186v1M1137.5 186v1M1138.5 187v1M1139.5 187v1M1140.5 187v1M1141.5 188v1M1142.5 188v1M1143.5 189v1M1144.5 189v1M1145.5 189v1M1146.5 190v1M1147.5 190v1M1148.5 190v1M1149.5 191v1M1150.5 191v1M1151.5 192v1M1152.5 192v1M1153.5 193v1M1154.5 193v1M1155.5 194v1M1156.5 194v1M1157.5 195v1M1158.5 195v1M1159.5 195v1M1160.5 194v1M1161.5 194v1M1162.5 194v1M1163.5 194v1M1164.5 193v1M1165.5 193v1M1166.5 193v1M1167.5 193v1M1168.5 192v1M1169.5 192v1M1170.5 192v1M1171.5 192v1M1172.5 191v1M1173.5 191v1M1174.5 191v1M1175.5 190v1M1176.5 190v1M1177.5 190v1M1178.5 190v1M1179.5 190v1M1180.5 190v1M1181.5 190v1M1182.5 190v1M1183.5 190v1M1184.5 190v1M1185.5 190v1M1186.5 190v1M1187.5 191v1M1188.5 191v1M1189.5 191v1M1190.5 191v1M1191.5 192v1M1192.5 192v1M1193.5 192v1M1194.5 192v1M1195.5 193v1M1196.5 193v1M1197.5 193v1M1198.5 193v1M1199.5 193v1M1200.5 193v1M1201.5 193v1M1202.5 193v1M1203.5 192v1M1204.5 192v1M1205.5 192v1M1206.5 191v1M1207.5 191v1M1208.5 191v1M1209.5 191v1M1210.5 190v1M1211.5 190v1M1212.5 190v1" fill="none" stroke="#0000ff" stroke-width="1"/>
<path d="M4.5 166v1M5.5 166v1M6.5 167v1M7.5 167v1M8.5 168v1M9.5 168v1M10.5 168v1M11.5 169v1M12.5 169v1M13.5 170v1M14.5 170v1M15.5 170v1M16.5 171v1M17.5 171v1M18.5 172v1M19.5 172v1M20.5 173v1M21.5 173v1M22.5 173v1M23.5 173v1M24.5 173v1M25.5 173v1M26.5 174v1M27.5 174v1M28.5 174v1M29.5 174v1M30.5 174v1M31.5 174v1M32.5 174v1M33.5 173v1M34.5 173v1M35.5 173v1M36.5 173v1M37.5 173v1M38.5 173v1M39.5 173v1M40.5 174v1M41.5 174v1M42.5 175v1M43.5 175v1M44.5 175v1M45.5 176v1M46.5 176v1M47.5 177v1M48.5 177v1M49.5 178v1M50.5 178v1M51.5 179v1M52.5 180v1M53.5 181v1M54.5 181v1M55.5 182v1M56.5 182v1M57.5 183v1M58.5 183v1M59.5 184v1M60.5 184v1M61.5 185v1M62.5 186v1M63.5 187v1M64.5 188v1M65.5 189v1M66.5 190v1M67.5 191v1M68.5 192v1M69.5 193v1M70.5 194v1M71.5 195v1M72.5 196v1M73.5 196v1M74.5 197v1M75.5 198v1M76.5 199v3M77.5 202v1M78.5 203v3M79.5 206v1M80.5 207v3M81.5 210v1M82.5 211v4M83.5 215v2M84.5 217v2M85.5 219v2M86.5 221v2M87.5 223v2M88.5 225v2M89.5 227v2M90.5 229v2M91.5 231v2M92.5 233v2M93.5 235v1M94.5 236v3M95.5 239v1M96.5 240v3M97.5 243v1M98.5 244v3M99.5 247v1M100.5 248v3M101.5 251v1M102.5 252v3M103.5 255v1M104.5 256v3M105.5 259v1M106.5 260v3M107.5 263v1M108.5 264v2M109.5 266v2M110.5 268v2M111.5 270v1M112.5 271v2M113.5 273v2M114.5 275v1M115.5 276v2M116.5 278v1M117.5 279v2M118.5 281v2M119.5 283v1M120.5 284v2M121.5 286v2M122.5 288v2M123.5 290v2M124.5 292v2M125.5 294v1M126.5 295v1M127.5 295v1M128.5 296v1M129.5 297v1M130.5 298v1M131.5 299v1M132.5 300v1M133.5 301v1M134.5 302v1M135.5 303v1M136.5 304v1M137.5 304v1M138.5 305v1M139.5 306v1M140.5 307v1M141.5 308v1M142.5 309v1M143.5 310v1M144.5 311v1M145.5 312v1M146.5 313v2M147.5 315v1M148.5 316v2M149.5 318v1M150.5 319v1M151.5 320v2M152.5 322v1M153.5 323v1M154.5 324v1M155.5 325v1M156.5 326v1M157.5 327v1M158.5 328v1M159.5 329v1M160.5 330v1M161.5 331v1M162.5 332v1M163.5 333v1M164.5 334v2M165.5 336v2M166.5 338v2M167.5 340v2M168.5 342v1M169.5 343v2M170.5 345v1M171.5 346v1M172.5 347v2M173.5 349v1M174.5 350v2M175.5 352v1M176.5 353v2M177.5 355v1M178.5 356v1M179.5 357v2M180.5 359v1M181.5 360v1M182.5 360v1M183.5 361v1M184.5 362v1M185.5 362v1M186.5 363v1M187.5 364v1M188.5 364v1M189.5 365v1M190.5 366v2M191.5 368v1M192.5 369v2M193.5 371v1M194.5 372v2M195.5 374v1M196.5 375v2M197.5 377v1M198.5 378v1M199.5 379v1M200.5 380v1M201.5 380v1M202.5 381v1M203.5 382v1M204.5 383v1M205.5 384v1M206.5 384v1M207.5 384v1M208.5 384v1M209.5 384v1M210.5 384v1M211.5 384v1M212.5 384v1M213.5 384v1M214.5 384v1M215.5 384v1M216.5 384v1M217.5 384v1M218.5 383v1M219.5 383v1M220.5 383v1M221.5 383v1M222.5 383v1M223.5 383v1M224.5 383v1M225.5 383v1M226.5 383v1M227.5 383v1M228.5 383v1M229.5 383v1M230.5 383v1M231.5 383v1M232.5 383v1M233.5 383v1M234.5 383v1M235.5 383v1M236.5 383v1M237.5 383v1M238.5 383v1M239.5 383v1M240.5 383v1M241.5 383v1M242.5 384v1M243.5 384v1M244.5 384v1M245.5 384v1M246.5 385v1M247.5 385v1M248.5 385v1M249.5 386v1M250.5 386v1M251.5 386v1M252.5 386v1M253.5 387v1M254.5 387v1M255.5 387v1M256.5 388v1M257.5 388v1M258.5 388v1M259.5 389v1M260.5 389v1M261.5 390v1M262.5 390v1M263.5 390v1M264.5 391v1M265.5 391v1M266.5 391v1M267.5 392v1M268.5 392v1M269.5 392v1M270.5 392v1M271.5 392v1M272.5 392v1M273.5 393v1M274.5 393v1M275.5 393v1M276.5 393v1M277.5 393v1M278.5 393v1M279.5 392v1M280.5 392v1M281.5 391v1M282.5 391v1M283.5 390v1M284.5 390v1M285.5 390v1M286.5 389v1M287.5 389v1M288.5 389v1M289.5 389v1M290.5 388v1M291.5 388v1M292.5 388v1M293.5 388v1M294.5 387v1M295.5 387v1M296.5 387v1M297.5 386v1M298.5 386v1M299.5 385v1M300.5 385v1M301.5 384v1M302.5 384v1M303.5 383v1M304.5 383v1M305.5 382v1M306.5 382v1M307.5 382v1M308.5 382v1M309.5 381v1M310.5 381v1M311.5 381v1M312.5 380v1M313.5 380v1M314.5 380v1M315.5 380v1M316.5 380v1M317.5 380v1M318.5 380v1M319.5 380v1M320.5 381v1M321.5 381v1M322.5 382v1M323.5 382v1M324.5 383v1M325.5 383v1M326.5 384v1M327.5 385v1M328.5 386v2M329.5 388v1M330.5 389v1M331.5 390v1M332.5 391v1M333.5 392v2M334.5 394v1M335.5 395v1M336.5 396v1M337.5 397v1M338.5 398v2M339.5 400v1M340.5 401v1M341.5 402v1M342.5 403v1M343.5 404v1M344.5 405v2M345.5 407v1M346.5 408v1M347.5 409v2M348.5 411v1M349.5 412v1M350.5 413v2M351.5 415v1M352.5 416v2M353.5 418v2M354.5 420v2M355.5 422v2M356.5 424v2M357.5 426v2M358.5 428v2M359.5 430v1M360.5 431v1M361.5 432v1M362.5 433v2M363.5 435v1M364.5 436v2M365.5 438v1M366.5 439v1M367.5 440v1M368.5 441v2M369.5 443v1M370.5 444v2M371.5 446v1M372.5 447v1M373.5 448v1M374.5 449v1M375.5 450v1M376.5 451v1M377.5 452v1M378.5 453v2M379.5 455v1M380.5 456v1M381.5 457v1M382.5 458v1M383.5 459v1M384.5 460v1M385.5 461v1M386.5 462v1M387.5 463v1M388.5 464v2M389.5 466v1M390.5 467v1M391.5 468v1M392.5 469v1M393.5 470v2M394.5 472v1M395.5 473v1M396.5 474v1M397.5 474v1M398.5 475v1M399.5 476v1M400.5 476v1M401.5 476v1M402.5 477v1M403.5 478v1M404.5 478v1M405.5 479v1M406.5 479v1M407.5 480v1M408.5 481v1M409.5 481v1M410.5 482v1M411.5 483v1M412.5 483v1M413.5 484v1M414.5 484v1M415.5 484v1M416.5 484v1M417.5 485v1M418.5 485v1M419.5 485v1M420.5 485v1M421.5 485v1M422.5 485v1M423.5 486v1M424.5 486v1M425.5 486v1M426.5 486v1M427.5 486v1M428.5 486v1M429.5 487v1M430.5 487v1M431.5 487v1M432.5 487v1M433.5 487v1M434.5 487v1M435.5 488v1M436.5 488v1M437.5 488v1M438.5 488v1M439.5 488v1M440.5 487v1M441.5 487v1M442.5 487v1M443.5 486v1M444.5 486v1M445.5 486v1M446.5 485v1M447.5 485v1M448.5 484v1M449.5 484v1M450.5 483v1M451.5 483v1M452.5 482v1M453.5 482v1M454.5 481v1M455.5 481v1M456.5 480v1M457.5 480v1M458.5 479v1M459.5 479v1M460.5 478v1M461.5 478v1M462.5 477v1M463.5 477v1M464.5 476v1M465.5 476v1M466.5 476v1M467.5 475v1M468.5 474v1M469.5 474v1M470.5 474v1M471.5 473v1M472.5 473v1M473.5 473v1M474.5 473v1M475.5 473v1M476.5 474v1M477.5 474v1M478.5 474v1M479.5 474v1M480.5 474v1M481.5 474v1M482.5 474v1M483.5 474v1M484.5 474v1M485.5 474v1M486.5 474v1M487.5 474v1M488.5 474v1M489.5 474v1M490.5 474v1M491.5 473v1M492.5 473v1M493.5 473v1M494.5 472v1M495.5 472v1M496.5 472v1M497.5 472v1M498.5 472v1M499.5 471v1M500.5 471v1M501.5 471v1M502.5 471v1M503.5 471v1M504.5 471v1M505.5 471v1M506.5 471v1M507.5 471v1M508.5 471v1M509.5 471v1M510.5 471v1M511.5 471v1M512.5 471v1M513.5 470v1M514.5 470v1M515.5 470v1M516.5 470v1M517.5 470v1M518.5 470v1M519.5 470v1M520.5 470v1M521.5 470v1M522.5 470v1M523.5 470v1M524.5 470v1M525.5 470v1M526.5 470v1M527.5 470v1M528.5 470v1M529.5 470v1M530.5 470v1M531.5 470v1M532.5 470v1M533.5 470v1M534.5 469v1M535.5 469v1M536.5 469v1M537.5 469v1M538.5 469v1M539.5 469v1M540.5 469v1M541.5 469v1M542.5 469v1M543.5 468v1M544.5 468v1M545.5 468v1M546.5 467v1M547.5 467v1M548.5 466v1M549.5 466v1M550.5 466v1M551.5 466v1M552.5 466v1M553.5 466v1M554.5 466v1M555.5 466v1M556.5 466v1M557.5 467v1M558.5 467v1M559.5 467v1M560.5 467v1M561.5 467v1M562.5 467v1M563.5 467v1M564.5 467v1M565.5 467v1M566.5 467v1M567.5 468v1M568.5 468v1M569.5 468v1M570.5 468v1M571.5 468v1M572.5 468v1M573.5 469v1M574.5 469v1M575.5 469v1M576.5 469v1M577.5 468v1M578.5 468v1M579.5 468v1M580.5 468v1M581.5 468v1M582.5 467v1M583.5 467v1M584.5 467v1M585.5 466v1M586.5 466v1M587.5 465v1M588.5 465v1M589.5 465v1M590.5 464v1M591.5 464v1M592.5 463v1M593.5 463v1M594.5 463v1M595.5 463v1M596.5 463v1M597.5 463v1M598.5 463v1M599.5 463v1M600.5 463v1M601.5 463v1M602.5 463v1M603.5 463v1M604.5 463v1M605.5 463v1M606.5 463v1M607.5 463v1M608.5 463v1M609.5 463v1M610.5 463v1M611.5 463v1M612.5 463v1M613.5 463v1M614.5 463v1M615.5 463v1M616.5 463v1M617.5 463v1M618.5 464v1M619.5 464v1M620.5 464v1M621.5 464v1M622.5 465v1M623.5 465v1M624.5 465v1M625.5 466v1M626.5 466v1M627.5 467v1M628.5 468v1M629.5 469v1M630.5 469v1M631.5 470v1M632.5 471v1M633.5 472v1M634.5 473v1M635.5 473v1M636.5 474v1M637.5 474v1M638.5 475v1M639.5 475v1M640.5 476v1M641.5 476v1M642.5 476v1M643.5 476v1M644.5 476v1M645.5 476v1M646.5 477v1M647.5 477v1M648.5 477v1M649.5 477v1M650.5 477v1M651.5 477v1M652.5 477v1M653.5 477v1M654.5 477v1M655.5 477v1M656.5 477v1M657.5 477v1M658.5 477v1M659.5 477v1M660.5 477v1M661.5 477v1M662.5 477v1M663.5 477v1M664.5 476v1M665.5 476v1M666.5 475v1M667.5 475v1M668.5 474v1M669.5 474v1M670.5 473v1M671.5 473v1M672.5 472v1M673.5 472v1M674.5 471v1M675.5 471v1M676.5 470v1M677.5 470v1M678.5 470v1M679.5 469v1M680.5 469v1M681.5 469v1M682.5 468v1M683.5 468v1M684.5 468v1M685.5 467v1M686.5 467v1M687.5 467v1M688.5 466v1M689.5 466v1M690.5 466v1M691.5 465v1M692.5 465v1M693.5 465v1M694.5 465v1M695.5 464v1M696.5 464v1M697.5 464v1M698.5 464v1M699.5 464v1M700.5 463v1M701.5 463v1M702.5 463v1M703.5 463v1M704.5 462v1M705.5 462v1M706.5 462v1M707.5 462v1M708.5 461v1M709.5 461v1M710.5 461v1M711.5 460v1M712.5 460v1M713.5 459v1M714.5 459v1M715.5 459v1M716.5 458v1M717.5 458v1M718.5 458v1M719.5 457v1M720.5 457v1M721.5 456v1M722.5 456v1M723.5 456v1M724.5 455v1M725.5 455v1M726.5 454v1M727.5 452v2M728.5 451v1M729.5 450v1M730.5 449v1M731.5 447v2M732.5 446v1M733.5 445v1M734.5 444v1M735.5 442v2M736.5 441v1M737.5 440v1M738.5 438v2M739.5 437v1M740.5 436v1M741.5 434v2M742.5 433v1M743.5 431v2M744.5 429v2M745.5 427v2M746.5 425v2M747.5 422v3M748.5 420v2M749.5 418v2M750.5 415v3M751.5 413v2M752.5 411v2M753.5 409v2M754.5 406v3M755.5 405v1M756.5 402v3M757.5 401v1M758.5 398v3M759.5 397v1M760.5 394v3M761.5 393v1M762.5 391v2M763.5 390v1M764.5 388v2M765.5 386v2M766.5 383v3M767.5 380v3M768.5 378v2M769.5 375v3M770.5 372v3M771.5 370v2M772.5 367v3M773.5 364v3M774.5 362v2M775.5 359v3M776.5 356v3M777.5 354v2M778.5 351v3M779.5 348v3M780.5 345v3M781.5 343v2M782.5 340v3M783.5 337v3M784.5 334v3M785.5 331v3M786.5 328v3M787.5 325v3M788.5 322v3M789.5 320v2M790.5 317v3M791.5 314v3M792.5 311v3M793.5 308v3M794.5 305v3M795.5 303v2M796.5 300v3M797.5 297v3M798.5 294v3M799.5 291v3M800.5 288v3M801.5 285v3M802.5 282v3M803.5 279v3M804.5 276v3M805.5 273v3M806.5 270v3M807.5 267v3M808.5 264v3M809.5 261v3M810.5 258v3M811.5 255v3M812.5 252v3M813.5 249v3M814.5 246v3M815.5 243v3M816.5 240v3M817.5 237v3M818.5 234v3M819.5 231v3M820.5 228v3M821.5 225v3M822.5 222v3M823.5 219v3M824.5 216v3M825.5 213v3M826.5 210v3M827.5 207v3M828.5 204v3M829.5 201v3M830.5 198v3M831.5 195v3M832.5 192v3M833.5 189v3M834.5 186v3M835.5 184v2M836.5 181v3M837.5 180v1M838.5 177v3M839.5 176v1M840.5 173v3M841.5 172v1M842.5 169v3M843.5 168v1M844.5 165v3M845.5 164v1M846.5 162v2M847.5 160v2M848.5 159v1M849.5 157v2M850.5 156v1M851.5 154v2M852.5 152v2M853.5 151v1M854.5 149v2M855.5 148v1M856.5 146v2M857.5 144v2M858.5 143v1M859.5 141v2M860.5 139v2M861.5 138v1M862.5 136v2M863.5 135v1M864.5 133v2M865.5 132v1M866.5 130v2M867.5 129v1M868.5 127v2M869.5 125v2M870.5 124v1M871.5 122v2M872.5 121v1M873.5 119v2M874.5 118v1M875.5 117v1M876.5 117v1M877.5 116v1M878.5 116v1M879.5 115v1M880.5 114v1M881.5 114v1M882.5 113v1M883.5 113v1M884.5 112v1M885.5 112v1M886.5 112v1M887.5 112v1M888.5 112v1M889.5 111v1M890.5 111v1M891.5 111v1M892.5 111v1M893.5 111v1M894.5 111v1M895.5 111v1M896.5 111v1M897.5 111v1M898.5 110v1M899.5 110v1M900.5 110v1M901.5 110v1M902.5 110v1M903.5 110v1M904.5 110v1M905.5 110v1M906.5 110v1M907.5 110v1M908.5 110v1M909.5 110v1M910.5 110v1M911.5 110v1M912.5 110v1M913.5 110v1M914.5 110v1M915.5 110v1M916.5 110v1M917.5 110v1M918.5 110v1M919.5 110v1M920.5 110v1M921.5 110v1M922.5 110v1M923.5 110v1M924.5 110v1M925.5 110v1M926.5 110v1M927.5 109v1M928.5 109v1M929.5 109v1M930.5 109v1M931.5 109v1M932.5 109v1M933.5 109v1M934.5 109v1M935.5 109v1M936.5 109v1M937.5 109v1M938.5 109v1M939.5 109v1M940.5 109v1M941.5 109v1M942.5 109v1M943.5 109v1M944.5 109v1M945.5 109v1M946.5 109v1M947.5 109v1M948.5 109v1M949.5 109v1M950.5 108v1M951.5 108v1M952.5 108v1M953.5 108v1M954.5 108v1M955.5 107v1M956.5 107v1M957.5 107v1M958.5 106v1M959.5 106v1M960.5 106v1M961.5 106v1M962.5 106v1M963.5 105v1M964.5 105v1M965.5 105v1M966.5 105v1M967.5 105v1M968.5 105v1M969.5 104v1M970.5 104v1M971.5 104v1M972.5 104v1M973.5 104v1M974.5 104v1M975.5 105v1M976.5 105v1M977.5 106v1M978.5 106v1M979.5 107v1M980.5 107v1M981.5 108v1M982.5 109v1M983.5 109v1M984.5 110v1M985.5 110v1M986.5 111v1M987.5 111v1M988.5 112v1M989.5 113v1M990.5 114v1M991.5 115v1M992.5 116v2M993.5 118v1M994.5 119v1M995.5 120v1M996.5 121v1M997.5 122v1M998.5 123v1M999.5 124v1M1000.5 124v1M1001.5 125v1M1002.5 126v1M1003.5 126v1M1004.5 127v1M1005.5 128v1M1006.5 129v1M1007.5 130v1M1008.5 130v1M1009.5 131v1M1010.5 132v1M1011.5 132v1M1012.5 133v1M1013.5 133v1M1014.5 134v1M1015.5 135v1M1016.5 135v1M1017.5 136v1M1018.5 136v1M1019.5 137v1M1020.5 138v1M1021.5 138v1M1022.5 139v1M1023.5 140v1M1024.5 140v1M1025.5 141v1M1026.5 141v1M1027.5 142v1M1028.5 143v1M1029.5 144v1M1030.5 145v2M1031.5 147v1M1032.5 148v1M1033.5 149v1M1034.5 150v1M1035.5 151v2M1036.5 153v1M1037.5 154v1M1038.5 155v2M1039.5 157v1M1040.5 158v1M1041.5 159v2M1042.5 161v1M1043.5 162v1M1044.5 163v1M1045.5 164v1M1046.5 165v1M1047.5 166v1M1048.5 166v1M1049.5 167v1M1050.5 168v1M1051.5 169v1M1052.5 170v1M1053.5 171v1M1054.5 171v1M1055.5 172v1M1056.5 172v1M1057.5 173v1M1058.5 174v1M1059.5 174v1M1060.5 175v1M1061.5 175v1M1062.5 176v1M1063.5 177v1M1064.5 178v1M1065.5 179v1M1066.5 180v1M1067.5 180v1M1068.5 181v1M1069.5 182v1M1070.5 183v1M1071.5 184v1M1072.5 185v1M1073.5 186v1M1074.5 186v1M1075.5 187v1M1076.5 188v1M1077.5 188v1M1078.5 189v1M1079.5 190v1M1080.5 190v1M1081.5 191v1M1082.5 191v1M1083.5 192v1M1084.5 192v1M1085.5 192v1M1086.5 192v1M1087.5 192v1M1088.5 193v1M1089.5 193v1M1090.5 193v1M1091.5 193v1M1092.5 193v1M1093.5 193v1M1094.5 193v1M1095.5 193v1M1096.5 193v1M1097.5 193v1M1098.5 193v1M1099.5 193v1M1100.5 193v1M1101.5 193v1M1102.5 193v1M1103.5 193v1M1104.5 193v1M1105.5 193v1M1106.5 193v1M1107.5 193v1M1108.5 192v1M1109.5 192v1M1110.5 192v1M1111.5 192v1M1112.5 191v1M1113.5 191v1M1114.5 191v1M1115.5 191v1M1116.5 191v1M1117.5 191v1M1118.5 191v1M1119.5 191v1M1120.5 191v1M1121.5 191v1M1122.5 192v1M1123.5 192v1M1124.5 192v1M1125.5 192v1M1126.5 192v1M1127.5 192v1M1128.5 192v1M1129.5 192v1M1130.5 192v1M1131.5 192v1M1132.5 192v1M1133.5 192v1M1134.5 192v1M1135.5 192v1M1136.5 192v1M1137.5 192v1M1138.5 192v1M1139.5 192v1M1140.5 192v1M1141.5 192v1M1142.5 192v1M1143.5 192v1M1144.5 192v1M1145.5 192v1M1146.5 192v1M1147.5 192v1M1148.5 192v1M1149.5 192v1M1150.5 192v1M1151.5 192v1M1152.5 192v1M1153.5 192v1M1154.5 191v1M1155.5 191v1M1156.5 191v1M1157.5 191v1M1158.5 191v1M1159.5 190v1M1160.5 190v1M1161.5 189v1M1162.5 189v1M1163.5 189v1M1164.5 189v1M1165.5 188v1M1166.5 188v1M1167.5 188v1M1168.5 188v1M1169.5 188v1M1170.5 188v1M1171.5 188v1M1172.5 188v1M1173.5 188v1M1174.5 188v1M1175.5 188v1M1176.5 188v1M1177.5 188v1M1178.5 188v1M1179.5 188v1M1180.5 188v1M1181.5 188v1M1182.5 188v1M1183.5 188v1M1184.5 188v1M1185.5 188v1M1186.5 188v1M1187.5 188v1M1188.5 188v1M1189.5 188v1M1190.5 188v1M1191.5 188v1M1192.5 188v1M1193.5 188v1M1194.5 189v1M1195.5 190v1M1196.5 190v1M1197.5 190v1M1198.5 190v1M1199.5 190v1M1200.5 190v1M1201.5 190v1M1202.5 190v1M1203.5 190v1M1204.5 191v1M1205.5 191v1M1206.5 191v1M1207.5 192v1M1208.5 192v1M1209.5 192v1M1210.5 192v1M1211.5 193v1M1212.5 193v1" fill="none" stroke="#ff0000" stroke-width="1"/>
<path d="M4.5 168v1M5.5 168v1M6.5 169v1M7.5 169v1M8.5 170v1M9.5 170v1M10.5 170v1M11.5 171v1M12.5 171v1M13.5 172v1M14.5 173v1M15.5 174v1M16.5 175v1M17.5 176v1M18.5 177v1M19.5 178v1M20.5 178v1M21.5 179v1M22.5 179v1M23.5 179v1M24.5 179v1M25.5 179v1M26.5 179v1M27.5 179v1M28.5 179v1M29.5 179v1M30.5 179v1M31.5 179v1M32.5 178v1M33.5 178v1M34.5 178v1M35.5 178v1M36.5 177v1M37.5 177v1M38.5 177v1M39.5 177v1M40.5 177v1M41.5 177v1M42.5 177v1M43.5 176v1M44.5 176v1M45.5 176v1M46.5 176v1M47.5 176v1M48.5 176v1M49.5 176v1M50.5 176v1M51.5 177v1M52.5 177v1M53.5 177v1M54.5 177v1M55.5 177v1M56.5 178v1M57.5 178v1M58.5 179v1M59.5 179v1M60.5 179v1M61.5 180v1M62.5 180v1M63.5 181v1M64.5 181v1M65.5 182v1M66.5 183v1M67.5 183v1M68.5 184v1M69.5 185v1M70.5 186v1M71.5 186v1M72.5 187v1M73.5 188v1M74.5 189v1M75.5 190v1M76.5 191v1M77.5 192v1M78.5 192v1M79.5 193v1M80.5 194v1M81.5 195v1M82.5 196v1M83.5 197v1M84.5 198v1M85.5 199v1M86.5 200v1M87.5 201v1M88.5 202v1M89.5 203v2M90.5 205v1M91.5 206v1M92.5 207v2M93.5 209v1M94.5 210v1M95.5 211v2M96.5 213v1M97.5 214v1M98.5 215v2M99.5 217v1M100.5 218v1M101.5 219v2M102.5 221v1M103.5 222v1M104.5 223v2M105.5 225v1M106.5 226v1M107.5 227v2M108.5 229v1M109.5 230v2M110.5 232v1M111.5 233v1M112.5 234v2M113.5 236v1M114.5 237v1M115.5 238v2M116.5 240v1M117.5 241v2M118.5 243v1M119.5 244v1M120.5 245v2M121.5 247v1M122.5 248v1M123.5 249v2M124.5 251v1M125.5 252v1M126.5 253v1M127.5 254v1M128.5 255v1M129.5 256v1M130.5 257v1M131.5 258v1M132.5 259v1M133.5 260v1M134.5 260v1M135.5 261v1M136.5 262v1M137.5 263v1M138.5 264v1M139.5 265v1M140.5 266v1M141.5 267v1M142.5 268v1M143.5 269v1M144.5 270v1M145.5 271v1M146.5 272v1M147.5 273v1M148.5 274v1M149.5 275v2M150.5 277v1M151.5 278v1M152.5 279v1M153.5 280v1M154.5 281v1M155.5 282v1M156.5 283v1M157.5 284v1M158.5 285v1M159.5 286v1M160.5 287v1M161.5 288v1M162.5 289v1M163.5 290v1M164.5 291v1M165.5 292v1M166.5 293v2M167.5 295v1M168.5 296v1M169.5 297v1M170.5 298v2M171.5 300v1M172.5 301v1M173.5 302v1M174.5 303v2M175.5 305v1M176.5 306v1M177.5 307v1M178.5 308v1M179.5 309v1M180.5 310v2M181.5 312v1M182.5 313v1M183.5 314v1M184.5 315v1M185.5 316v1M186.5 317v2M187.5 319v1M188.5 320v1M189.5 321v1M190.5 322v1M191.5 323v2M192.5 325v2M193.5 327v2M194.5 329v2M195.5 331v1M196.5 332v2M197.5 334v2M198.5 336v2M199.5 338v1M200.5 339v2M201.5 341v2M202.5 343v2M203.5 345v2M204.5 347v1M205.5 348v1M206.5 349v2M207.5 351v1M208.5 352v1M209.5 353v1M210.5 354v2M211.5 356v1M212.5 357v1M213.5 358v1M214.5 359v1M215.5 360v1M216.5 361v1M217.5 361v1M218.5 362v1M219.5 363v1M220.5 364v1M221.5 365v1M222.5 366v1M223.5 367v1M224.5 367v1M225.5 368v1M226.5 369v1M227.5 370v1M228.5 371v1M229.5 371v1M230.5 372v1M231.5 373v1M232.5 374v1M233.5 375v1M234.5 376v1M235.5 377v1M236.5 378v1M237.5 378v1M238.5 379v1M239.5 379v1M240.5 380v1M241.5 380v1M242.5 380v1M243.5 380v1M244.5 381v1M245.5 381v1M246.5 381v1M247.5 381v1M248.5 381v1M249.5 381v1M250.5 381v1M251.5 381v1M252.5 381v1M253.5 381v1M254.5 381v1M255.5 381v1M256.5 380v1M257.5 380v1M258.5 379v1M259.5 379v1M260.5 379v1M261.5 378v1M262.5 378v1M263.5 377v1M264.5 377v1M265.5 377v1M266.5 377v1M267.5 377v1M268.5 377v1M269.5 377v1M270.5 376v1M271.5 376v1M272.5 376v1M273.5 376v1M274.5 376v1M275.5 376v1M276.5 376v1M277.5 376v1M278.5 376v1M279.5 375v1M280.5 375v1M281.5 375v1M282.5 374v1M283.5 374v1M284.5 374v1M285.5 374v1M286.5 374v1M287.5 374v1M288.5 374v1M289.5 374v1M290.5 374v1M291.5 374v1M292.5 374v1M293.5 375v1M294.5 375v1M295.5 375v1M296.5 375v1M297.5 376v1M298.5 376v1M299.5 376v1M300.5 376v1M301.5 377v1M302.5 378v1M303.5 378v1M304.5 378v1M305.5 379v1M306.5 380v1M307.5 380v1M308.5 380v1M309.5 381v1M310.5 382v1M311.5 383v1M312.5 384v1M313.5 385v1M314.5 386v2M315.5 388v1M316.5 389v1M317.5 390v1M318.5 391v1M319.5 392v1M320.5 392v1M321.5 393v1M322.5 394v1M323.5 395v1M324.5 395v1M325.5 396v1M326.5 397v1M327.5 398v1M328.5 399v1M329.5 400v1M330.5 400v1M331.5 401v1M332.5 402v1M333.5 403v1M334.5 404v1M335.5 405v1M336.5 406v1M337.5 406v1M338.5 407v1M339.5 408v1M340.5 408v1M341.5 409v1M342.5 409v1M343.5 410v1M344.5 411v1M345.5 411v1M346.5 412v1M347.5 413v1M348.5 414v1M349.5 415v1M350.5 416v1M351.5 416v1M352.5 417v1M353.5 418v1M354.5 419v1M355.5 420v1M356.5 420v1M357.5 420v1M358.5 421v1M359.5 421v1M360.5 421v1M361.5 422v1M362.5 422v1M363.5 422v1M364.5 422v1M365.5 422v1M366.5 422v1M367.5 422v1M368.5 422v1M369.5 421v1M370.5 421v1M371.5 421v1M372.5 421v1M373.5 421v1M374.5 422v1M375.5 422v1M376.5 423v1M377.5 423v1M378.5 424v1M379.5 424v1M380.5 425v1M381.5 426v1M382.5 426v1M383.5 427v1M384.5 427v1M385.5 428v1M386.5 429v1M387.5 429v1M388.5 430v1M389.5 430v1M390.5 431v1M391.5 431v1M392.5 432v1M393.5 433v1M394.5 433v1M395.5 434v1M396.5 434v1M397.5 435v1M398.5 435v1M399.5 436v1M400.5 436v1M401.5 437v1M402.5 437v1M403.5 438v1M404.5 438v1M405.5 439v1M406.5 439v1M407.5 440v1M408.5 440v1M409.5 441v1M410.5 441v1M411.5 442v1M412.5 442v1M413.5 443v1M414.5 443v1M415.5 444v1M416.5 444v1M417.5 445v1M418.5 445v1M419.5 446v1M420.5 446v1M421.5 447v1M422.5 448v1M423.5 449v1M424.5 450v1M425.5 451v1M426.5 452v1M427.5 453v1M428.5 454v1M429.5 455v1M430.5 456v1M431.5 457v1M432.5 457v1M433.5 458v1M434.5 458v1M435.5 459v1M436.5 459v1M437.5 460v1M438.5 460v1M439.5 461v1M440.5 461v1M441.5 462v1M442.5 462v1M443.5 463v1M444.5 464v1M445.5 464v1M446.5 465v1M447.5 466v1M448.5 467v1M449.5 467v1M450.5 468v1M451.5 469v1M452.5 470v1M453.5 470v1M454.5 471v1M455.5 472v1M456.5 472v1M457.5 473v1M458.5 473v1M459.5 474v1M460.5 474v1M461.5 475v1M462.5 475v1M463.5 476v1M464.5 476v1M465.5 477v1M466.5 478v1M467.5 478v1M468.5 479v1M469.5 479v1M470.5 480v1M471.5 480v1M472.5 481v1M473.5 482v1M474.5 482v1M475.5 483v1M476.5 483v1M477.5 484v1M478.5 484v1M479.5 484v1M480.5 484v1M481.5 484v1M482.5 484v1M483.5 484v1M484.5 484v1M485.5 484v1M486.5 484v1M487.5 484v1M488.5 484v1M489.5 484v1M490.5 484v1M491.5 484v1M492.5 484v1M493.5 484v1M494.5 484v1M495.5 484v1M496.5 484v1M497.5 484v1M498.5 483v1M499.5 483v1M500.5 483v1M501.5 482v1M502.5 482v1M503.5 481v1M504.5 481v1M505.5 481v1M506.5 480v1M507.5 480v1M508.5 480v1M509.5 479v1M510.5 479v1M511.5 478v1M512.5 478v1M513.5 477v1M514.5 477v1M515.5 476v1M516.5 476v1M517.5 475v1M518.5 475v1M519.5 474v1M520.5 474v1M521.5 473v1M522.5 473v1M523.5 472v1M524.5 472v1M525.5 471v1M526.5 471v1M527.5 471v1M528.5 471v1M529.5 471v1M530.5 470v1M531.5 470v1M532.5 470v1M533.5 470v1M534.5 470v1M535.5 470v1M536.5 470v1M537.5 470v1M538.5 469v1M539.5 469v1M540.5 469v1M541.5 469v1M542.5 469v1M543.5 468v1M544.5 468v1M545.5 468v1M546.5 468v1M547.5 467v1M548.5 467v1M549.5 467v1M550.5 466v1M551.5 466v1M552.5 466v1M553.5 466v1M554.5 466v1M555.5 466v1M556.5 466v1M557.5 466v1M558.5 466v1M559.5 466v1M560.5 467v1M561.5 467v1M562.5 467v1M563.5 467v1M564.5 467v1M565.5 467v1M566.5 467v1M567.5 467v1M568.5 467v1M569.5 467v1M570.5 467v1M571.5 467v1M572.5 467v1M573.5 468v1M574.5 468v1M575.5 468v1M576.5 468v1M577.5 468v1M578.5 468v1M579.5 468v1M580.5 468v1M581.5 468v1M582.5 469v1M583.5 469v1M584.5 469v1M585.5 469v1M586.5 469v1M587.5 469v1M588.5 469v1M589.5 470v1M590.5 470v1M591.5 470v1M592.5 470v1M593.5 470v1M594.5 470v1M595.5 470v1M596.5 470v1M597.5 470v1M598.5 470v1M599.5 470v1M600.5 470v1M601.5 470v1M602.5 470v1M603.5 470v1M604.5 470v1M605.5 469v1M606.5 469v1M607.5 469v1M608.5 469v1M609.5 469v1M610.5 469v1M611.5 469v1M612.5 469v1M613.5 469v1M614.5 469v1M615.5 469v1M616.5 469v1M617.5 469v1M618.5 469v1M619.5 469v1M620.5 469v1M621.5 469v1M622.5 469v1M623.5 470v1M624.5 470v1M625.5 470v1M626.5 470v1M627.5 470v1M628.5 470v1M629.5 470v1M630.5 470v1M631.5 471v1M632.5 471v1M633.5 472v1M634.5 472v1M635.5 473v1M636.5 473v1M637.5 473v1M638.5 472v1M639.5 472v1M640.5 472v1M641.5 472v1M642.5 471v1M643.5 471v1M644.5 471v1M645.5 471v1M646.5 471v1M647.5 471v1M648.5 471v1M649.5 471v1M650.5 471v1M651.5 470v1M652.5 470v1M653.5 470v1M654.5 470v1M655.5 470v1M656.5 470v1M657.5 470v1M658.5 470v1M659.5 470v1M660.5 470v1M661.5 470v1M662.5 470v1M663.5 469v1M664.5 469v1M665.5 469v1M666.5 469v1M667.5 469v1M668.5 469v1M669.5 469v1M670.5 469v1M671.5 468v1M672.5 468v1M673.5 468v1M674.5 468v1M675.5 468v1M676.5 468v1M677.5 468v1M678.5 467v1M679.5 467v1M680.5 467v1M681.5 467v1M682.5 467v1M683.5 466v1M684.5 466v1M685.5 466v1M686.5 466v1M687.5 466v1M688.5 466v1M689.5 466v1M690.5 465v1M691.5 465v1M692.5 465v1M693.5 465v1M694.5 465v1M695.5 465v1M696.5 464v1M697.5 464v1M698.5 464v1M699.5 464v1M700.5 464v1M701.5 464v1M702.5 464v1M703.5 463v1M704.5 463v1M705.5 463v1M706.5 463v1M707.5 463v1M708.5 463v1M709.5 463v1M710.5 462v1M711.5 462v1M712.5 462v1M713.5 462v1M714.5 462v1M715.5 462v1M716.5 461v1M717.5 461v1M718.5 461v1M719.5 461v1M720.5 461v1M721.5 461v1M722.5 460v1M723.5 460v1M724.5 460v1M725.5 460v1M726.5 459v1M727.5 459v1M728.5 458v1M729.5 457v1M730.5 456v1M731.5 456v1M732.5 455v1M733.5 454v1M734.5 454v1M735.5 453v1M736.5 452v1M737.5 451v1M738.5 450v1M739.5 449v1M740.5 448v1M741.5 448v1M742.5 447v1M743.5 446v1M744.5 445v1M745.5 444v1M746.5 443v1M747.5 442v1M748.5 441v1M749.5 440v1M750.5 438v2M751.5 437v1M752.5 436v1M753.5 435v1M754.5 434v1M755.5 433v1M756.5 431v2M757.5 430v1M758.5 429v1M759.5 428v1M760.5 427v1M761.5 425v2M762.5 424v1M763.5 423v1M764.5 421v2M765.5 420v1M766.5 417v3M767.5 416v1M768.5 413v3M769.5 412v1M770.5 409v3M771.5 408v1M772.5 405v3M773.5 404v1M774.5 401v3M775.5 400v1M776.5 398v2M777.5 396v2M778.5 394v2M779.5 392v2M780.5 390v2M781.5 388v2M782.5 386v2M783.5 384v2M784.5 381v3M785.5 379v2M786.5 377v2M787.5 374v3M788.5 372v2M789.5 370v2M790.5 367v3M791.5 365v2M792.5 362v3M793.5 360v2M794.5 358v2M795.5 355v3M796.5 353v2M797.5 351v2M798.5 348v3M799.5 346v2M800.5 344v2M801.5 341v3M802.5 339v2M803.5 337v2M804.5 335v2M805.5 333v2M806.5 331v2M807.5 328v3M808.5 326v2M809.5 324v2M810.5 322v2M811.5 320v2M812.5 317v3M813.5 315v2M814.5 313v2M815.5 311v2M816.5 309v2M817.5 307v2M818.5 304v3M819.5 302v2M820.5 300v2M821.5 298v2M822.5 296v2M823.5 294v2M824.5 291v3M825.5 289v2M826.5 287v2M827.5 284v3M828.5 282v2M829.5 280v2M830.5 277v3M831.5 275v2M832.5 273v2M833.5 270v3M834.5 268v2M835.5 266v2M836.5 264v2M837.5 262v2M838.5 260v2M839.5 259v1M840.5 257v2M841.5 255v2M842.5 254v1M843.5 252v2M844.5 250v2M845.5 249v1M846.5 247v2M847.5 245v2M848.5 244v1M849.5 242v2M850.5 240v2M851.5 239v1M852.5 237v2M853.5 235v2M854.5 234v1M855.5 232v2M856.5 230v2M857.5 228v2M858.5 226v2M859.5 224v2M860.5 222v2M861.5 220v2M862.5 218v2M863.5 216v2M864.5 214v2M865.5 212v2M866.5 210v2M867.5 208v2M868.5 206v2M869.5 204v2M870.5 202v2M871.5 200v2M872.5 198v2M873.5 196v2M874.5 194v2M875.5 192v2M876.5 190v2M877.5 188v2M878.5 186v2M879.5 184v2M880.5 183v1M881.5 181v2M882.5 179v2M883.5 177v2M884.5 176v1M885.5 174v2M886.5 172v2M887.5 170v2M888.5 169v1M889.5 167v2M890.5 165v2M891.5 163v2M892.5 162v1M893.5 160v2M894.5 158v2M895.5 156v2M896.5 155v1M897.5 153v2M898.5 152v1M899.5 151v1M900.5 149v2M901.5 148v1M902.5 147v1M903.5 145v2M904.5 144v1M905.5 143v1M906.5 141v2M907.5 140v1M908.5 139v1M909.5 137v2M910.5 136v1M911.5 135v1M912.5 133v2M913.5 132v1M914.5 131v1M915.5 129v2M916.5 128v1M917.5 127v1M918.5 126v1M919.5 125v1M920.5 124v1M921.5 123v1M922.5 122v1M923.5 121v1M924.5 120v1M925.5 119v1M926.5 118v1M927.5 117v1M928.5 116v1M929.5 115v1M930.5 114v1M931.5 113v1M932.5 112v1M933.5 111v1M934.5 111v1M935.5 111v1M936.5 111v1M937.5 111v1M938.5 111v1M939.5 111v1M940.5 111v1M941.5 110v1M942.5 110v1M943.5 110v1M944.5 110v1M945.5 110v1M946.5 110v1M947.5 110v1M948.5 110v1M949.5 110v1M950.5 110v1M951.5 109v1M952.5 109v1M953.5 109v1M954.5 108v1M955.5 108v1M956.5 108v1M957.5 108v1M958.5 108v1M959.5 107v1M960.5 107v1M961.5 107v1M962.5 106v1M963.5 106v1M964.5 106v1M965.5 106v1M966.5 106v1M967.5 106v1M968.5 107v1M969.5 107v1M970.5 107v1M971.5 107v1M972.5 107v1M973.5 107v1M974.5 107v1M975.5 108v1M976.5 108v1M977.5 108v1M978.5 108v1M979.5 109v1M980.5 109v1M981.5 110v1M982.5 110v1M983.5 111v1M984.5 112v1M985.5 112v1M986.5 113v1M987.5 114v1M988.5 114v1M989.5 115v1M990.5 115v1M991.5 116v1M992.5 117v1M993.5 117v1M994.5 118v1M995.5 119v1M996.5 120v1M997.5 120v1M998.5 121v1M999.5 122v1M1000.5 122v1M1001.5 123v1M1002.5 123v1M1003.5 124v1M1004.5 124v1M1005.5 125v1M1006.5 125v1M1007.5 126v1M1008.5 126v1M1009.5 126v1M1010.5 127v1M1011.5 127v1M1012.5 128v1M1013.5 128v1M1014.5 128v1M1015.5 128v1M1016.5 128v1M1017.5 128v1M1018.5 128v1M1019.5 129v1M1020.5 129v1M1021.5 129v1M1022.5 129v1M1023.5 129v1M1024.5 129v1M1025.5 130v1M1026.5 130v1M1027.5 131v1M1028.5 131v1M1029.5 132v1M1030.5 132v1M1031.5 133v1M1032.5 133v1M1033.5 134v1M1034.5 134v1M1035.5 135v1M1036.5 135v1M1037.5 136v1M1038.5 136v1M1039.5 137v1M1040.5 138v1M1041.5 138v1M1042.5 139v1M1043.5 140v1M1044.5 140v1M1045.5 141v1M1046.5 142v1M1047.5 142v1M1048.5 143v1M1049.5 144v1M1050.5 144v1M1051.5 145v1M1052.5 146v1M1053.5 146v1M1054.5 147v1M1055.5 148v1M1056.5 148v1M1057.5 149v1M1058.5 149v1M1059.5 150v1M1060.5 150v1M1061.5 151v1M1062.5 152v1M1063.5 152v1M1064.5 153v1M1065.5 153v1M1066.5 154v1M1067.5 154v1M1068.5 155v1M1069.5 155v1M1070.5 156v1M1071.5 156v1M1072.5 157v1M1073.5 157v1M1074.5 158v1M1075.5 158v1M1076.5 159v1M1077.5 159v1M1078.5 160v1M1079.5 160v1M1080.5 161v1M1081.5 161v1M1082.5 162v1M1083.5 162v1M1084.5 163v1M1085.5 163v1M1086.5 163v1M1087.5 164v1M1088.5 164v1M1089.5 165v1M1090.5 165v1M1091.5 166v1M1092.5 166v1M1093.5 166v1M1094.5 167v1M1095.5 167v1M1096.5 168v1M1097.5 168v1M1098.5 169v1M1099.5 169v1M1100.5 170v1M1101.5 170v1M1102.5 171v1M1103.5 171v1M1104.5 172v1M1105.5 172v1M1106.5 173v1M1107.5 173v1M1108.5 174v1M1109.5 174v1M1110.5 175v1M1111.5 175v1M1112.5 176v1M1113.5 177v1M1114.5 177v1M1115.5 178v1M1116.5 178v1M1117.5 179v1M1118.5 180v1M1119.5 180v1M1120.5 181v1M1121.5 181v1M1122.5 182v1M1123.5 182v1M1124.5 183v1M1125.5 183v1M1126.5 184v1M1127.5 184v1M1128.5 185v1M1129.5 185v1M1130.5 186v1M1131.5 186v1M1132.5 186v1M1133.5 187v1M1134.5 187v1M1135.5 188v1M1136.5 188v1M1137.5 188v1M1138.5 189v1M1139.5 189v1M1140.5 190v1M1141.5 190v1M1142.5 190v1M1143.5 191v1M1144.5 191v1M1145.5 192v1M1146.5 192v1M1147.5 192v1M1148.5 192v1M1149.5 193v1M1150.5 193v1M1151.5 193v1M1152.5 193v1M1153.5 193v1M1154.5 193v1M1155.5 194v1M1156.5 194v1M1157.5 194v1M1158.5 194v1M1159.5 194v1M1160.5 193v1M1161.5 193v1M1162.5 193v1M1163.5 193v1M1164.5 193v1M1165.5 192v1M1166.5 192v1M1167.5 192v1M1168.5 192v1M1169.5 192v1M1170.5 192v1M1171.5 192v1M1172.5 192v1M1173.5 191v1M1174.5 191v1M1175.5 191v1M1176.5 191v1M1177.5 191v1M1178.5 191v1M1179.5 191v1M1180.5 191v1M1181.5 191v1M1182.5 191v1M1183.5 191v1M1184.5 191v1M1185.5 191v1M1186.5 191v1M1187.5 191v1M1188.5 191v1M1189.5 191v1M1190.5 191v1M1191.5 191v1M1192.5 191v1M1193.5 191v1M1194.5 191v1M1195.5 191v1M1196.5 191v1M1197.5 192v1M1198.5 192v1M1199.5 192v1M1200.5 192v1M1201.5 192v1M1202.5 192v1M1203.5 192v1M1204.5 192v1M1205.5 192v1M1206.5 192v1M1207.5 192v1M1208.5 191v1M1209.5 191v1M1210.5 191v1M1211.5 191v1M1212.5 191v1" fill="none" stroke="#ffff00" stroke-width="1"/>
</g>
<rect x="5" y="50" width="1416" height="3" fill="#ff0000"/>
<rect x="5" y="152" width="1416" height="3" fill="#00ff00"/>
<rect x="5" y="289" width="1416" height="3" fill="#0000ff"/>
<rect x="5" y="397" width="1416" height="3" fill="#0000ff"/>
<polygon points="1131,25 1141,25 1136,30" fill="#c0c0c0" shape-rendering="auto"/>
<polygon points="5,795 5,800 10,800" fill="#c8c8c8" shape-rendering="auto"/>
<rect x="1421" y="32" width="2" height="1" fill="#000"/>
<rect x="1421" y="65" width="2" height="1" fill="#000"/>
<rect x="1421" y="98" width="2" height="1" fill="#000"/>
<rect x="1421" y="131" width="2" height="1" fill="#000"/>
<rect x="1421" y="164" width="2" height="1" fill="#000"/>
<rect x="1421" y="197" width="2" height="1" fill="#000"/>
<rect x="1421" y="230" width="2" height="1" fill="#000"/>
<rect x="1421" y="263" width="2" height="1" fill="#000"/>
<rect x="1421" y="296" width="2" height="1" fill="#000"/>
<rect x="1421" y="329" width="2" height="1" fill="#000"/>
<rect x="1421" y="362" width="2" height="1" fill="#000"/>
<rect x="1421" y="395" width="2" height="1" fill="#000"/>
<rect x="1421" y="428" width="2" height="1" fill="#000"/>
<rect x="1421" y="461" width="2" height="1" fill="#000"/>
<rect x="1421" y="494" width="2" height="1" fill="#000"/>
<rect x="1421" y="527" width="2" height="1" fill="#000"/>
<rect x="1421" y="560" width="2" height="1" fill="#000"/>
<rect x="5" y="627" width="1" height="8" fill="#c0c0c0"/>
<rect x="13" y="627" width="1" height="7" fill="#c0c0c0"/>
<rect x="21" y="627" width="1" height="8" fill="#c0c0c0"/>
<rect x="29" y="627" width="1" height="9" fill="#c0c0c0"/>
<rect x="37" y="627" width="1" height="9" fill="#c0c0c0"/>
<rect x="45" y="627" width="1" height="8" fill="#c0c0c0"/>
<rect x="53" y="627" width="1" height="9" fill="#c0c0c0"/>
<rect x="61" y="627" width="1" height="11" fill="#c0c0c0"/>
<rect x="69" y="627" width="1" height="13" fill="#c0c0c0"/>
<rect x="77" y="627" width="1" height="17" fill="#c0c0c0"/>
<rect x="85" y="627" width="1" height="22" fill="#c0c0c0"/>
<rect x="93" y="627" width="1" height="27" fill="#c0c0c0"/>
<rect x="101" y="627" width="1" height="32" fill="#c0c0c0"/>
<rect x="109" y="627" width="1" height="34" fill="#c0c0c0"/>
<rect x="117" y="627" width="1" height="35" fill="#c0c0c0"/>
<rect x="125" y="627" width="1" height="35" fill="#c0c0c0"/>
<rect x="133" y="627" width="1" height="33" fill="#c0c0c0"/>
<rect x="141" y="627" width="1" height="31" fill="#c0c0c0"/>
<rect x="149" y="627" width="1" height="27" fill="#c0c0c0"/>
<rect x="157" y="627" width="1" height="25" fill="#c0c0c0"/>
<rect x="165" y="627" width="1" height="24" fill="#c0c0c0"/>
<rect x="173" y="627" width="1" height="27" fill="#c0c0c0"/>
<rect x="181" y="627" width="1" height="28" fill="#c0c0c0"/>
<rect x="189" y="627" width="1" height="29" fill="#c0c0c0"/>
<rect x="197" y="627" width="1" height="32" fill="#c0c0c0"/>
<rect x="205" y="627" width="1" height="35" fill="#c0c0c0"/>
<rect x="213" y="627" width="1" height="33" fill="#c0c0c0"/>
<rect x="221" y="627" width="1" height="29" fill="#c0c0c0"/>
<rect x="229" y="627" width="1" height="27" fill="#c0c0c0"/>
<rect x="237" y="627" width="1" height="24" fill="#c0c0c0"/>
<rect x="245" y="627" width="1" height="21" fill="#c0c0c0"/>
<rect x="253" y="627" width="1" height="17" fill="#c0c0c0"/>
<rect x="261" y="627" width="1" height="13" fill="#c0c0c0"/>
<rect x="269" y="627" width="1" height="13" fill="#c0c0c0"/>
<rect x="277" y="627" width="1" height="12" fill="#c0c0c0"/>
<rect x="285" y="627" width="1" height="9" fill="#c0c0c0"/>
<rect x="293" y="627" width="1" height="9" fill="#c0c0c0"/>
<rect x="301" y="627" width="1" height="9" fill="#c0c0c0"/>
<rect x="309" y="627" width="1" height="12" fill="#c0c0c0"/>
<rect x="317" y="627" width="1" height="14" fill="#c0c0c0"/>
<rect x="325" y="627" width="1" height="17" fill="#c0c0c0"/>
<rect x="333" y="627" width="1" height="20" fill="#c0c0c0"/>
<rect x="341" y="627" width="1" height="23" fill="#c0c0c0"/>
<rect x="349" y="627" width="1" height="25" fill="#c0c0c0"/>
<rect x="357" y="627" width="1" height="27" fill="#c0c0c0"/>
<rect x="365" y="627" width="1" height="27" fill="#c0c0c0"/>
<rect x="373" y="627" width="1" height="25" fill="#c0c0c0"/>
<rect x="381" y="627" width="1" height="24" fill="#c0c0c0"/>
<rect x="389" y="627" width="1" height="24" fill="#c0c0c0"/>
<rect x="397" y="627" width="1" height="23" fill="#c0c0c0"/>
<rect x="405" y="627" width="1" height="19" fill="#c0c0c0"/>
<rect x="413" y="627" width="1" height="16" fill="#c0c0c0"/>
<rect x="421" y="627" width="1" height="14" fill="#c0c0c0"/>
<rect x="429" y="627" width="1" height="15" fill="#c0c0c0"/>
<rect x="437" y="627" width="1" height="14" fill="#c0c0c0"/>
<rect x="445" y="627" width="1" height="13" fill="#c0c0c0"/>
<rect x="453" y="627" width="1" height="13" fill="#c0c0c0"/>
<rect x="461" y="627" width="1" height="11" fill="#c0c0c0"/>
<rect x="469" y="627" width="1" height="10" fill="#c0c0c0"/>
<rect x="477" y="627" width="1" height="12" fill="#c0c0c0"/>
<rect x="485" y="627" width="1" height="11" fill="#c0c0c0"/>
<rect x="493" y="627" width="1" height="9" fill="#c0c0c0"/>
<rect x="501" y="627" width="1" height="9" fill="#c0c0c0"/>
<rect x="509" y="627" width="1" height="7" fill="#c0c0c0"/>
<rect x="517" y="627" width="1" height="5" fill="#c0c0c0"/>
<rect x="525" y="627" width="1" height="3" fill="#c0c0c0"/>
<rect x="533" y="627" width="1" height="3" fill="#c0c0c0"/>
<rect x="541" y="627" width="1" height="3" fill="#c0c0c0"/>
<rect x="549" y="627" width="1" height="2" fill="#c0c0c0"/>
<rect x="557" y="627" width="1" height="3" fill="#c0c0c0"/>
<rect x="565" y="627" width="1" height="3" fill="#c0c0c0"/>
<rect x="573" y="627" width="1" height="3" fill="#c0c0c0"/>
<rect x="581" y="627" width="1" height="3" fill="#c0c0c0"/>
<rect x="589" y="627" width="1" height="3" fill="#c0c0c0"/>
<rect x="597" y="627" width="1" height="2" fill="#c0c0c0"/>
<rect x="605" y="627" width="1" height="2" fill="#c0c0c0"/>
<rect x="613" y="627" width="1" height="3" fill="#c0c0c0"/>
<rect x="621" y="627" width="1" height="3" fill="#c0c0c0"/>
<rect x="629" y="627" width="1" height="4" fill="#c0c0c0"/>
<rect x="637" y="627" width="1" height="5" fill="#c0c0c0"/>
<rect x="645" y="627" width="1" height="6" fill="#c0c0c0"/>
<rect x="653" y="627" width="1" height="4" fill="#c0c0c0"/>
<rect x="661" y="627" width="1" height="3" fill="#c0c0c0"/>
<rect x="669" y="627" width="1" height="1" fill="#c0c0c0"/>
<rect x="677" y="627" width="1" height="1" fill="#c0c0c0"/>
<rect x="685" y="626" width="1" height="2" fill="#c0c0c0"/>
<rect x="693" y="624" width="1" height="4" fill="#c0c0c0"/>
<rect x="701" y="624" width="1" height="4" fill="#c0c0c0"/>
<rect x="709" y="624" width="1" height="4" fill="#c0c0c0"/>
<rect x="717" y="623" width="1" height="5" fill="#c0c0c0"/>
<rect x="725" y="622" width="1" height="6" fill="#c0c0c0"/>
<rect x="733" y="618" width="1" height="10" fill="#c0c0c0"/>
<rect x="741" y="615" width="1" height="13" fill="#c0c0c0"/>
<rect x="749" y="611" width="1" height="17" fill="#c0c0c0"/>
<rect x="757" y="606" width="1" height="22" fill="#c0c0c0"/>
<rect x="765" y="601" width="1" height="27" fill="#c0c0c0"/>
<rect x="773" y="593" width="1" height="35" fill="#c0c0c0"/>
<rect x="781" y="587" width="1" height="41" fill="#c0c0c0"/>
<rect x="789" y="583" width="1" height="45" fill="#c0c0c0"/>
<rect x="797" y="578" width="1" height="50" fill="#c0c0c0"/>
<rect x="805" y="574" width="1" height="54" fill="#c0c0c0"/>
<rect x="813" y="573" width="1" height="55" fill="#c0c0c0"/>
<rect x="821" y="572" width="1" height="56" fill="#c0c0c0"/>
<rect x="829" y="572" width="1" height="56" fill="#c0c0c0"/>
<rect x="837" y="573" width="1" height="55" fill="#c0c0c0"/>
<rect x="845" y="576" width="1" height="52" fill="#c0c0c0"/>
<rect x="853" y="579" width="1" height="49" fill="#c0c0c0"/>
<rect x="861" y="581" width="1" height="47" fill="#c0c0c0"/>
<rect x="869" y="582" width="1" height="46" fill="#c0c0c0"/>
<rect x="877" y="583" width="1" height="45" fill="#c0c0c0"/>
<rect x="885" y="585" width="1" height="43" fill="#c0c0c0"/>
<rect x="893" y="588" width="1" height="40" fill="#c0c0c0"/>
<rect x="901" y="590" width="1" height="38" fill="#c0c0c0"/>
<rect x="909" y="592" width="1" height="36" fill="#c0c0c0"/>
<rect x="917" y="594" width="1" height="34" fill="#c0c0c0"/>
<rect x="925" y="595" width="1" height="33" fill="#c0c0c0"/>
<rect x="933" y="595" width="1" height="33" fill="#c0c0c0"/>
<rect x="941" y="598" width="1" height="30" fill="#c0c0c0"/>
<rect x="949" y="600" width="1" height="28" fill="#c0c0c0"/>
<rect x="957" y="602" width="1" height="26" fill="#c0c0c0"/>
<rect x="965" y="603" width="1" height="25" fill="#c0c0c0"/>
<rect x="973" y="605" width="1" height="23" fill="#c0c0c0"/>
<rect x="981" y="609" width="1" height="19" fill="#c0c0c0"/>
<rect x="989" y="613" width="1" height="15" fill="#c0c0c0"/>
<rect x="997" y="619" width="1" height="9" fill="#c0c0c0"/>
<rect x="1005" y="623" width="1" height="5" fill="#c0c0c0"/>
<rect x="1013" y="626" width="1" height="2" fill="#c0c0c0"/>
<rect x="1021" y="626" width="1" height="2" fill="#c0c0c0"/>
<rect x="1037" y="627" width="1" height="1" fill="#c0c0c0"/>
<rect x="1045" y="627" width="1" height="3" fill="#c0c0c0"/>
<rect x="1053" y="627" width="1" height="5" fill="#c0c0c0"/>
<rect x="1061" y="627" width="1" height="4" fill="#c0c0c0"/>
<rect x="1069" y="627" width="1" height="4" fill="#c0c0c0"/>
<rect x="1077" y="627" width="1" height="5" fill="#c0c0c0"/>
<rect x="1085" y="627" width="1" height="3" fill="#c0c0c0"/>
<rect x="1093" y="627" width="1" height="3" fill="#c0c0c0"/>
<rect x="1101" y="627" width="1" height="3" fill="#c0c0c0"/>
<rect x="1109" y="627" width="1" height="3" fill="#c0c0c0"/>
<rect x="1117" y="627" width="1" height="3" fill="#c0c0c0"/>
<rect x="1125" y="627" width="1" height="3" fill="#c0c0c0"/>
<rect x="1133" y="627" width="1" height="3" fill="#c0c0c0"/>
<rect x="1141" y="627" width="1" height="3" fill="#c0c0c0"/>
<rect x="1149" y="627" width="1" height="3" fill="#c0c0c0"/>
<rect x="1157" y="627" width="1" height="3" fill="#c0c0c0"/>
<rect x="1165" y="627" width="1" height="3" fill="#c0c0c0"/>
<rect x="1173" y="627" width="1" height="3" fill="#c0c0c0"/>
<rect x="1181" y="627" width="1" height="3" fill="#c0c0c0"/>
<rect x="1189" y="627" width="1" height="3" fill="#c0c0c0"/>
<rect x="1197" y="627" width="1" height="3" fill="#c0c0c0"/>
<rect x="1205" y="627" width="1" height="3" fill="#c0c0c0"/>
<rect x="1213" y="627" width="1" height="3" fill="#c0c0c0"/>
<path d="M5.5 635v1M6.5 635v1M7.5 635v1M11.5 635v1M12.5 635v1M13.5 635v1M17.5 635v1M18.5 635v1M19.5 635v1M23.5 634v1M24.5 634v1M25.5 634v1M29.5 634v1M30.5 634v1M31.5 634v1M35.5 634v1M36.5 634v1M37.5 634v1M41.5 634v1M42.5 635v1M43.5 635v1M47.5 635v1M48.5 635v1M49.5 635v1M53.5 636v1M54.5 636v1M55.5 636v1M59.5 636v1M60.5 636v1M61.5 637v1M65.5 637v1M66.5 637v1M67.5 637v1M71.5 638v1M72.5 638v1M73.5 638v1M77.5 638v1M78.5 639v1M79.5 639v1M83.5 640v1M84.5 640v1M85.5 640v1M89.5 641v1M90.5 641v1M91.5 641v1M95.5 642v1M96.5 642v1M97.5 642v1M101.5 643v1M102.5 644v1M103.5 644v1M107.5 646v1M108.5 646v1M109.5 647v1M113.5 648v1M114.5 649v1M115.5 649v1M119.5 651v1M120.5 651v1M121.5 651v1M125.5 653v1M126.5 653v1M127.5 653v1M131.5 655v1M132.5 655v1M133.5 655v1M137.5 656v1M138.5 656v1M139.5 656v1M143.5 657v1M144.5 657v1M145.5 657v1M149.5 658v1M150.5 658v1M151.5 658v1M155.5 658v1M156.5 658v1M157.5 658v1M161.5 657v1M162.5 657v1M163.5 657v1M167.5 657v1M168.5 657v1M169.5 657v1M173.5 657v1M174.5 657v1M175.5 657v1M179.5 657v1M180.5 657v1M181.5 657v1M185.5 656v1M186.5 656v1M187.5 656v1M191.5 656v1M192.5 656v1M193.5 656v1M197.5 656v1M198.5 656v1M199.5 656v1M203.5 656v1M204.5 656v1M205.5 656v1M209.5 656v1M210.5 656v1M211.5 656v1M215.5 656v1M216.5 656v1M217.5 656v1M221.5 657v1M222.5 657v1M223.5 657v1M227.5 657v1M228.5 657v1M229.5 657v1M233.5 657v1M234.5 657v1M235.5 657v1M239.5 657v1M240.5 656v1M241.5 656v1M245.5 656v1M246.5 656v1M247.5 655v1M251.5 655v1M252.5 654v1M253.5 654v1M257.5 654v1M258.5 653v1M259.5 653v1M263.5 652v1M264.5 652v1M265.5 652v1M269.5 650v1M270.5 650v1M271.5 650v1M275.5 649v1M276.5 649v1M277.5 648v1M281.5 647v1M282.5 647v1M283.5 647v1M287.5 645v1M288.5 645v1M289.5 645v1M293.5 644v1M294.5 643v1M295.5 643v1M299.5 642v1M300.5 642v1M301.5 642v1M305.5 641v1M306.5 641v1M307.5 641v1M311.5 640v1M312.5 640v1M313.5 640v1M317.5 640v1M318.5 640v1M319.5 640v1M323.5 640v1M324.5 640v1M325.5 640v1M329.5 640v1M330.5 640v1M331.5 640v1M335.5 640v1M336.5 640v1M337.5 640v1M341.5 640v1M342.5 640v1M343.5 640v1M347.5 642v1M348.5 642v1M349.5 643v1M353.5 644v1M354.5 644v1M355.5 644v1M359.5 646v1M360.5 646v1M361.5 646v1M365.5 647v1M366.5 647v1M367.5 647v1M371.5 648v1M372.5 648v1M373.5 648v1M377.5 649v1M378.5 649v1M379.5 649v1M383.5 650v1M384.5 650v1M385.5 650v1M389.5 650v1M390.5 651v1M391.5 651v1M395.5 651v1M396.5 651v1M397.5 651v1M401.5 652v1M402.5 652v1M403.5 652v1M407.5 652v1M408.5 651v1M409.5 651v1M413.5 651v1M414.5 651v1M415.5 651v1M419.5 650v1M420.5 650v1M421.5 650v1M425.5 649v1M426.5 649v1M427.5 649v1M431.5 648v1M432.5 648v1M433.5 647v1M437.5 646v1M438.5 646v1M439.5 646v1M443.5 645v1M444.5 645v1M445.5 644v1M449.5 644v1M450.5 644v1M451.5 644v1M455.5 643v1M456.5 643v1M457.5 642v1M461.5 642v1M462.5 642v1M463.5 642v1M467.5 641v1M468.5 641v1M469.5 640v1M473.5 640v1M474.5 640v1M475.5 640v1M479.5 640v1M480.5 640v1M481.5 640v1M485.5 640v1M486.5 640v1M487.5 640v1M491.5 639v1M492.5 639v1M493.5 639v1M497.5 639v1M498.5 639v1M499.5 639v1M503.5 639v1M504.5 639v1M505.5 639v1M509.5 638v1M510.5 638v1M511.5 638v1M515.5 637v1M516.5 637v1M517.5 637v1M521.5 636v1M522.5 636v1M523.5 636v1M527.5 635v1M528.5 635v1M529.5 635v1M533.5 635v1M534.5 634v1M535.5 634v1M539.5 634v1M540.5 634v1M541.5 634v1M545.5 633v1M546.5 633v1M547.5 633v1M551.5 632v1M552.5 632v1M553.5 632v1M557.5 632v1M558.5 632v1M559.5 632v1M563.5 631v1M564.5 631v1M565.5 631v1M569.5 631v1M570.5 631v1M571.5 631v1M575.5 630v1M576.5 630v1M577.5 630v1M581.5 630v1M582.5 630v1M583.5 630v1M587.5 630v1M588.5 630v1M589.5 630v1M593.5 630v1M594.5 630v1M595.5 630v1M599.5 630v1M600.5 630v1M601.5 630v1M605.5 630v1M606.5 630v1M607.5 630v1M611.5 630v1M612.5 630v1M613.5 630v1M617.5 630v1M618.5 630v1M619.5 630v1M623.5 630v1M624.5 630v1M625.5 630v1M629.5 630v1M630.5 630v1M631.5 630v1M635.5 630v1M636.5 630v1M637.5 630v1M641.5 631v1M642.5 631v1M643.5 631v1M647.5 631v1M648.5 631v1M649.5 631v1M653.5 631v1M654.5 631v1M655.5 631v1M659.5 631v1M660.5 631v1M661.5 631v1M665.5 631v1M666.5 631v1M667.5 631v1M671.5 631v1M672.5 631v1M673.5 631v1M677.5 630v1M678.5 630v1M679.5 630v1M683.5 630v1M684.5 630v1M685.5 630v1M689.5 629v1M690.5 629v1M691.5 629v1M695.5 629v1M696.5 629v1M697.5 628v1M701.5 628v1M702.5 628v1M703.5 628v1M707.5 627v1M708.5 627v1M709.5 627v1M713.5 627v1M714.5 627v1M715.5 626v1M719.5 626v1M720.5 626v1M721.5 626v1M725.5 625v1M726.5 624v1M727.5 624v1M731.5 623v1M732.5 623v1M733.5 623v1M737.5 622v1M738.5 622v1M739.5 621v1M743.5 620v1M744.5 620v1M745.5 620v1M749.5 619v1M750.5 619v1M751.5 618v1M755.5 618v1M756.5 617v1M757.5 617v1M761.5 616v1M762.5 616v1M763.5 616v1M767.5 614v1M768.5 614v1M769.5 613v1M773.5 612v1M774.5 611v1M775.5 611v1M779.5 609v1M780.5 609v1M781.5 608v1M785.5 605v1M786.5 605v1M787.5 604v1M791.5 601v1M792.5 601v1M793.5 600v1M797.5 597v1M798.5 596v1M799.5 596v1M803.5 594v1M804.5 594v1M805.5 593v1M809.5 591v1M810.5 590v1M811.5 590v1M815.5 588v1M816.5 588v1M817.5 587v1M821.5 585v1M822.5 585v1M823.5 584v1M827.5 582v1M828.5 582v1M829.5 581v1M833.5 580v1M834.5 580v1M835.5 579v1M839.5 578v1M840.5 578v1M841.5 577v1M845.5 576v1M846.5 576v1M847.5 576v1M851.5 575v1M852.5 575v1M853.5 575v1M857.5 575v1M858.5 574v1M859.5 574v1M863.5 574v1M864.5 574v1M865.5 574v1M869.5 575v1M870.5 575v1M871.5 575v1M875.5 575v1M876.5 576v1M877.5 576v1M881.5 576v1M882.5 576v1M883.5 577v1M887.5 578v1M888.5 578v1M889.5 578v1M893.5 579v1M894.5 580v1M895.5 580v1M899.5 581v1M900.5 581v1M901.5 581v1M905.5 582v1M906.5 582v1M907.5 582v1M911.5 583v1M912.5 583v1M913.5 584v1M917.5 584v1M918.5 585v1M919.5 585v1M923.5 586v1M924.5 586v1M925.5 586v1M929.5 587v1M930.5 587v1M931.5 587v1M935.5 588v1M936.5 588v1M937.5 588v1M941.5 589v1M942.5 589v1M943.5 590v1M947.5 591v1M948.5 591v1M949.5 591v1M953.5 592v1M954.5 593v1M955.5 593v1M959.5 594v1M960.5 594v1M961.5 595v1M965.5 596v1M966.5 596v1M967.5 596v1M971.5 597v1M972.5 597v1M973.5 597v1M977.5 598v1M978.5 598v1M979.5 598v1M983.5 599v1M984.5 599v1M985.5 600v1M989.5 601v1M990.5 601v1M991.5 602v1M995.5 603v1M996.5 603v1M997.5 604v1M1001.5 605v1M1002.5 605v1M1003.5 606v1M1007.5 607v1M1008.5 608v1M1009.5 608v1M1013.5 609v1M1014.5 610v1M1015.5 610v1M1019.5 612v1M1020.5 612v1M1021.5 612v1M1025.5 614v1M1026.5 614v1M1027.5 615v1M1031.5 616v1M1032.5 617v1M1033.5 617v1M1037.5 619v1M1038.5 619v1M1039.5 620v1M1043.5 621v1M1044.5 622v1M1045.5 622v1M1049.5 623v1M1050.5 624v1M1051.5 624v1M1055.5 625v1M1056.5 626v1M1057.5 626v1M1061.5 627v1M1062.5 627v1M1063.5 627v1M1067.5 628v1M1068.5 628v1M1069.5 628v1M1073.5 628v1M1074.5 628v1M1075.5 628v1M1079.5 629v1M1080.5 629v1M1081.5 629v1M1085.5 629v1M1086.5 629v1M1087.5 629v1M1091.5 629v1M1092.5 629v1M1093.5 630v1M1097.5 630v1M1098.5 630v1M1099.5 630v1M1103.5 630v1M1104.5 630v1M1105.5 630v1M1109.5 631v1M1110.5 631v1M1111.5 631v1M1115.5 631v1M1116.5 631v1M1117.5 631v1M1121.5 631v1M1122.5 631v1M1123.5 631v1M1127.5 631v1M1128.5 631v1M1129.5 631v1M1133.5 631v1M1134.5 631v1M1135.5 631v1M1139.5 631v1M1140.5 631v1M1141.5 631v1M1145.5 630v1M1146.5 630v1M1147.5 630v1M1151.5 630v1M1152.5 630v1M1153.5 630v1M1157.5 630v1M1158.5 630v1M1159.5 630v1M1163.5 630v1M1164.5 630v1M1165.5 630v1M1169.5 630v1M1170.5 630v1M1171.5 630v1M1175.5 630v1M1176.5 630v1M1177.5 630v1M1181.5 630v1M1182.5 630v1M1183.5 630v1M1187.5 630v1M1188.5 630v1M1189.5 630v1M1193.5 630v1M1194.5 630v1M1195.5 630v1M1199.5 630v1M1200.5 630v1M1201.5 630v1M1205.5 630v1M1206.5 630v1M1207.5 630v1M1211.5 630v1M1212.5 630v1M1213.5 630v1" fill="none" stroke="#ff0000" stroke-width="1"/>
<rect x="1421" y="566" width="1" height="1" fill="#000"/>
<rect x="1421" y="627" width="1" height="1" fill="#000"/>
<rect x="1421" y="667" width="1" height="1" fill="#000"/>
<line x1="6" y1="710.5" x2="1420" y2="710.5" stroke="#c0c0c0" stroke-dasharray="3 3"/>
<line x1="6" y1="761.5" x2="1420" y2="761.5" stroke="#c0c0c0" stroke-dasharray="3 3"/>
<path d="M5.5 744v1M6.5 744v1M7.5 744v1M8.5 743v1M9.5 743v1M10.5 743v1M11.5 742v1M12.5 742v1M13.5 742v1M14.5 742v1M15.5 743v1M16.5 744v1M17.5 744v1M18.5 744v1M19.5 745v1M20.5 746v1M21.5 746v1M22.5 746v1M23.5 746v1M24.5 746v1M25.5 746v1M26.5 747v1M27.5 747v1M28.5 747v1M29.5 747v1M30.5 746v1M31.5 745v1M32.5 744v1M33.5 744v1M34.5 743v1M35.5 742v1M36.5 741v1M37.5 740v1M38.5 740v1M39.5 740v1M40.5 740v1M41.5 740v1M42.5 741v1M43.5 741v1M44.5 741v1M45.5 741v1M46.5 742v1M47.5 742v1M48.5 743v1M49.5 744v1M50.5 744v1M51.5 745v1M52.5 745v1M53.5 746v1M54.5 747v1M55.5 748v1M56.5 748v1M57.5 749v1M58.5 750v1M59.5 750v1M60.5 751v1M61.5 752v1M62.5 752v1M63.5 751v1M64.5 751v1M65.5 750v1M66.5 750v1M67.5 750v1M68.5 749v1M69.5 749v1M70.5 750v1M71.5 751v2M72.5 753v1M73.5 754v1M74.5 755v1M75.5 756v2M76.5 758v1M77.5 759v1M78.5 760v1M79.5 760v1M80.5 760v1M81.5 761v1M82.5 762v1M83.5 762v1M84.5 762v1M85.5 763v1M86.5 764v1M87.5 764v1M88.5 765v1M89.5 766v1M90.5 766v1M91.5 767v1M92.5 767v1M93.5 768v1M94.5 768v1M95.5 768v1M96.5 768v1M97.5 768v1M98.5 768v1M99.5 768v1M100.5 768v1M101.5 768v1M102.5 767v1M103.5 767v1M104.5 766v1M105.5 766v1M106.5 765v1M107.5 764v1M108.5 764v1M109.5 763v1M110.5 763v1M111.5 764v1M112.5 764v1M113.5 764v1M114.5 764v1M115.5 764v1M116.5 765v1M117.5 765v1M118.5 764v1M119.5 763v1M120.5 762v1M121.5 760v2M122.5 759v1M123.5 758v1M124.5 757v1M125.5 756v1M126.5 755v1M127.5 753v2M128.5 752v1M129.5 751v1M130.5 750v1M131.5 748v2M132.5 747v1M133.5 746v1M134.5 746v1M135.5 746v1M136.5 746v1M137.5 746v1M138.5 747v1M139.5 747v1M140.5 747v1M141.5 747v1M142.5 746v1M143.5 746v1M144.5 745v1M145.5 744v1M146.5 744v1M147.5 743v1M148.5 743v1M149.5 742v1M150.5 743v1M151.5 744v1M152.5 744v1M153.5 745v1M154.5 746v1M155.5 746v1M156.5 747v1M157.5 748v1M158.5 748v1M159.5 748v1M160.5 747v1M161.5 747v1M162.5 747v1M163.5 746v1M164.5 746v1M165.5 746v1M166.5 747v1M167.5 748v2M168.5 750v1M169.5 751v1M170.5 752v1M171.5 753v2M172.5 755v1M173.5 756v1M174.5 756v1M175.5 756v1M176.5 756v1M177.5 756v1M178.5 756v1M179.5 756v1M180.5 756v1M181.5 756v1M182.5 756v1M183.5 756v1M184.5 756v1M185.5 756v1M186.5 757v1M187.5 757v1M188.5 757v1M189.5 757v1M190.5 758v1M191.5 759v1M192.5 760v1M193.5 761v1M194.5 762v1M195.5 763v1M196.5 764v1M197.5 765v1M198.5 765v1M199.5 765v1M200.5 765v1M201.5 764v1M202.5 764v1M203.5 764v1M204.5 764v1M205.5 763v2M206.5 761v2M207.5 759v2M208.5 756v3M209.5 754v2M210.5 751v3M211.5 749v2M212.5 747v2M213.5 745v2M214.5 744v1M215.5 744v1M216.5 743v1M217.5 742v1M218.5 742v1M219.5 741v1M220.5 741v1M221.5 740v1M222.5 740v1M223.5 741v1M224.5 742v1M225.5 742v1M226.5 742v1M227.5 743v1M228.5 744v1M229.5 744v1M230.5 744v1M231.5 743v1M232.5 742v1M233.5 742v1M234.5 742v1M235.5 741v1M236.5 740v1M237.5 740v1M238.5 740v1M239.5 739v1M240.5 739v1M241.5 738v1M242.5 738v1M243.5 738v1M244.5 737v1M245.5 737v1M246.5 737v1M247.5 737v1M248.5 737v1M249.5 737v1M250.5 737v1M251.5 737v1M252.5 737v1M253.5 737v1M254.5 736v1M255.5 736v1M256.5 736v1M257.5 735v1M258.5 734v1M259.5 734v1M260.5 734v1M261.5 733v1M262.5 734v1M263.5 735v1M264.5 736v1M265.5 737v1M266.5 738v1M267.5 739v1M268.5 740v1M269.5 741v1M270.5 740v1M271.5 740v1M272.5 740v1M273.5 739v1M274.5 738v1M275.5 738v1M276.5 738v1M277.5 737v1M278.5 737v1M279.5 737v1M280.5 737v1M281.5 738v1M282.5 738v1M283.5 738v1M284.5 738v1M285.5 738v1M286.5 738v1M287.5 738v1M288.5 739v1M289.5 739v1M290.5 739v1M291.5 740v1M292.5 740v1M293.5 740v1M294.5 740v1M295.5 740v1M296.5 740v1M297.5 740v1M298.5 740v1M299.5 740v1M300.5 740v1M301.5 740v1M302.5 741v1M303.5 742v1M304.5 743v1M305.5 744v1M306.5 745v1M307.5 746v1M308.5 747v1M309.5 748v1M310.5 749v1M311.5 750v1M312.5 750v1M313.5 751v1M314.5 752v1M315.5 752v1M316.5 753v1M317.5 754v1M318.5 754v1M319.5 753v1M320.5 752v1M321.5 752v1M322.5 752v1M323.5 751v1M324.5 750v1M325.5 750v1M326.5 751v1M327.5 751v1M328.5 752v1M329.5 752v1M330.5 753v1M331.5 754v1M332.5 754v1M333.5 755v1M334.5 755v1M335.5 756v1M336.5 756v1M337.5 756v1M338.5 757v1M339.5 757v1M340.5 758v1M341.5 758v1M342.5 758v1M343.5 758v1M344.5 758v1M345.5 758v1M346.5 758v1M347.5 758v1M348.5 758v1M349.5 758v1M350.5 758v1M351.5 758v1M352.5 759v1M353.5 759v1M354.5 759v1M355.5 760v1M356.5 760v1M357.5 760v1M358.5 759v1M359.5 758v1M360.5 757v1M361.5 756v1M362.5 756v1M363.5 755v1M364.5 754v1M365.5 753v1M366.5 752v1M367.5 751v1M368.5 750v1M369.5 748v2M370.5 747v1M371.5 746v1M372.5 745v1M373.5 744v1M374.5 744v1M375.5 745v1M376.5 745v1M377.5 746v1M378.5 746v1M379.5 746v1M380.5 747v1M381.5 747v1M382.5 747v1M383.5 747v1M384.5 747v1M385.5 748v1M386.5 748v1M387.5 748v1M388.5 748v1M389.5 748v1M390.5 748v1M391.5 747v1M392.5 746v1M393.5 746v1M394.5 746v1M395.5 745v1M396.5 744v1M397.5 744v1M398.5 743v1M399.5 742v1M400.5 741v1M401.5 740v1M402.5 740v1M403.5 739v1M404.5 738v1M405.5 737v1M406.5 737v1M407.5 737v1M408.5 737v1M409.5 738v1M410.5 738v1M411.5 738v1M412.5 738v1M413.5 738v1M414.5 738v1M415.5 738v1M416.5 738v1M417.5 738v1M418.5 738v1M419.5 738v1M420.5 738v1M421.5 738v1M422.5 739v1M423.5 740v1M424.5 741v1M425.5 742v1M426.5 742v1M427.5 743v1M428.5 744v1M429.5 745v1M430.5 745v1M431.5 746v1M432.5 746v1M433.5 746v1M434.5 746v1M435.5 746v1M436.5 747v1M437.5 747v1M438.5 746v1M439.5 745v1M440.5 744v1M441.5 743v1M442.5 742v1M443.5 741v1M444.5 740v1M445.5 739v1M446.5 739v1M447.5 740v1M448.5 740v1M449.5 740v1M450.5 741v1M451.5 741v1M452.5 742v1M453.5 742v1M454.5 742v1M455.5 741v1M456.5 741v1M457.5 740v1M458.5 740v1M459.5 740v1M460.5 739v1M461.5 739v1M462.5 739v1M463.5 739v1M464.5 739v1M465.5 740v1M466.5 740v1M467.5 740v1M468.5 740v1M469.5 740v1M470.5 741v2M471.5 743v1M472.5 744v1M473.5 745v2M474.5 747v1M475.5 748v1M476.5 749v2M477.5 751v1M478.5 750v1M479.5 748v2M480.5 747v1M481.5 746v1M482.5 745v1M483.5 743v2M484.5 742v1M485.5 741v1M486.5 740v1M487.5 740v1M488.5 739v1M489.5 738v1M490.5 737v1M491.5 736v1M492.5 736v1M493.5 735v1M494.5 736v1M495.5 736v1M496.5 736v1M497.5 737v1M498.5 738v1M499.5 738v1M500.5 738v1M501.5 739v1M502.5 739v1M503.5 738v1M504.5 738v1M505.5 738v1M506.5 737v1M507.5 737v1M508.5 736v1M509.5 736v1M510.5 735v1M511.5 735v1M512.5 734v1M513.5 734v1M514.5 733v1M515.5 732v1M516.5 732v1M517.5 731v1M518.5 731v1M519.5 731v1M520.5 731v1M521.5 731v1M522.5 731v1M523.5 731v1M524.5 731v1M525.5 731v1M526.5 732v1M527.5 732v1M528.5 733v1M529.5 734v1M530.5 735v1M531.5 736v1M532.5 736v1M533.5 737v1M534.5 737v1M535.5 737v1M536.5 737v1M537.5 737v1M538.5 737v1M539.5 737v1M540.5 737v1M541.5 737v1M542.5 737v1M543.5 736v1M544.5 736v1M545.5 736v1M546.5 736v1M547.5 736v1M548.5 735v1M549.5 735v1M550.5 736v1M551.5 736v1M552.5 737v1M553.5 738v1M554.5 738v1M555.5 739v1M556.5 739v1M557.5 740v1M558.5 740v1M559.5 740v1M560.5 740v1M561.5 740v1M562.5 739v1M563.5 739v1M564.5 739v1M565.5 739v1M566.5 739v1M567.5 740v1M568.5 740v1M569.5 740v1M570.5 741v1M571.5 741v1M572.5 742v1M573.5 742v1M574.5 741v1M575.5 741v1M576.5 740v1M577.5 740v1M578.5 739v1M579.5 738v1M580.5 738v1M581.5 737v1M582.5 737v1M583.5 737v1M584.5 737v1M585.5 737v1M586.5 737v1M587.5 737v1M588.5 737v1M589.5 737v1M590.5 737v1M591.5 737v1M592.5 737v1M593.5 737v1M594.5 737v1M595.5 737v1M596.5 737v1M597.5 737v1M598.5 736v1M599.5 736v1M600.5 736v1M601.5 735v1M602.5 734v1M603.5 734v1M604.5 734v1M605.5 733v1M606.5 734v1M607.5 735v1M608.5 736v1M609.5 737v2M610.5 739v1M611.5 740v1M612.5 741v1M613.5 742v1M614.5 742v1M615.5 742v1M616.5 742v1M617.5 742v1M618.5 743v1M619.5 743v1M620.5 743v1M621.5 743v1M622.5 742v1M623.5 742v1M624.5 741v1M625.5 740v1M626.5 740v1M627.5 739v1M628.5 739v1M629.5 738v1M630.5 739v2M631.5 741v2M632.5 743v2M633.5 745v1M634.5 746v2M635.5 748v2M636.5 750v2M637.5 752v1M638.5 750v2M639.5 749v1M640.5 747v2M641.5 746v1M642.5 744v2M643.5 743v1M644.5 741v2M645.5 740v1M646.5 740v1M647.5 739v1M648.5 738v1M649.5 738v1M650.5 738v1M651.5 737v1M652.5 736v1M653.5 736v1M654.5 735v1M655.5 735v1M656.5 734v1M657.5 734v1M658.5 733v1M659.5 732v1M660.5 732v1M661.5 731v1M662.5 731v1M663.5 730v1M664.5 730v1M665.5 730v1M666.5 729v1M667.5 729v1M668.5 728v1M669.5 728v1M670.5 728v1M671.5 727v1M672.5 726v1M673.5 726v1M674.5 726v1M675.5 725v1M676.5 724v1M677.5 724v1M678.5 724v1M679.5 725v1M680.5 726v1M681.5 726v1M682.5 726v1M683.5 727v1M684.5 728v1M685.5 728v1M686.5 728v1M687.5 728v1M688.5 728v1M689.5 728v1M690.5 728v1M691.5 728v1M692.5 728v1M693.5 728v1M694.5 728v1M695.5 728v1M696.5 728v1M697.5 728v1M698.5 728v1M699.5 728v1M700.5 728v1M701.5 728v1M702.5 728v1M703.5 729v1M704.5 730v1M705.5 730v1M706.5 730v1M707.5 731v1M708.5 732v1M709.5 732v1M710.5 731v1M711.5 730v1M712.5 729v1M713.5 728v1M714.5 728v1M715.5 727v1M716.5 726v1M717.5 725v1M718.5 726v1M719.5 726v1M720.5 727v1M721.5 728v1M722.5 728v1M723.5 729v1M724.5 729v1M725.5 730v1M726.5 727v3M727.5 726v1M728.5 723v3M729.5 722v1M730.5 719v3M731.5 718v1M732.5 715v3M733.5 714v1M734.5 714v1M735.5 714v1M736.5 713v1M737.5 713v1M738.5 713v1M739.5 712v1M740.5 712v1M741.5 712v1M742.5 712v1M743.5 712v1M744.5 711v1M745.5 711v1M746.5 711v1M747.5 710v1M748.5 710v1M749.5 710v1M750.5 709v1M751.5 708v1M752.5 707v1M753.5 706v1M754.5 706v1M755.5 705v1M756.5 704v1M757.5 703v1M758.5 703v1M759.5 703v1M760.5 703v1M761.5 702v1M762.5 702v1M763.5 702v1M764.5 702v1M765.5 702v1M766.5 701v1M767.5 700v1M768.5 699v1M769.5 697v2M770.5 696v1M771.5 695v1M772.5 694v1M773.5 693v1M774.5 694v1M775.5 694v1M776.5 695v1M777.5 696v1M778.5 696v1M779.5 697v1M780.5 697v1M781.5 698v1M782.5 698v1M783.5 698v1M784.5 698v1M785.5 698v1M786.5 698v1M787.5 698v1M788.5 698v1M789.5 698v1M790.5 698v1M791.5 697v1M792.5 697v1M793.5 696v1M794.5 696v1M795.5 696v1M796.5 695v1M797.5 695v1M798.5 695v1M799.5 695v1M800.5 695v1M801.5 694v1M802.5 694v1M803.5 694v1M804.5 694v1M805.5 694v1M806.5 694v1M807.5 695v1M808.5 696v1M809.5 696v1M810.5 696v1M811.5 697v1M812.5 698v1M813.5 698v1M814.5 698v1M815.5 699v1M816.5 700v1M817.5 700v1M818.5 700v1M819.5 701v1M820.5 702v1M821.5 702v1M822.5 702v1M823.5 702v1M824.5 701v1M825.5 701v1M826.5 701v1M827.5 700v1M828.5 700v1M829.5 700v1M830.5 700v1M831.5 701v1M832.5 702v1M833.5 702v1M834.5 702v1M835.5 703v1M836.5 704v1M837.5 704v1M838.5 705v1M839.5 706v1M840.5 707v1M841.5 708v1M842.5 708v1M843.5 709v1M844.5 710v1M845.5 711v1M846.5 711v1M847.5 712v1M848.5 712v1M849.5 712v1M850.5 712v1M851.5 712v1M852.5 713v1M853.5 713v1M854.5 713v1M855.5 712v1M856.5 712v1M857.5 712v1M858.5 712v1M859.5 712v1M860.5 711v1M861.5 711v1M862.5 711v1M863.5 710v1M864.5 710v1M865.5 710v1M866.5 709v1M867.5 709v1M868.5 708v1M869.5 708v1M870.5 708v1M871.5 708v1M872.5 708v1M873.5 708v1M874.5 707v1M875.5 707v1M876.5 707v1M877.5 707v1M878.5 707v1M879.5 708v1M880.5 708v1M881.5 708v1M882.5 708v1M883.5 708v1M884.5 709v1M885.5 709v1M886.5 710v1M887.5 711v1M888.5 712v1M889.5 713v1M890.5 714v1M891.5 715v1M892.5 716v1M893.5 717v1M894.5 717v1M895.5 717v1M896.5 717v1M897.5 716v1M898.5 716v1M899.5 716v1M900.5 716v1M901.5 716v1M902.5 716v1M903.5 716v1M904.5 715v1M905.5 715v1M906.5 715v1M907.5 714v1M908.5 714v1M909.5 714v1M910.5 714v1M911.5 714v1M912.5 714v1M913.5 714v1M914.5 714v1M915.5 714v1M916.5 714v1M917.5 714v1M918.5 714v1M919.5 713v1M920.5 712v1M921.5 712v1M922.5 712v1M923.5 711v1M924.5 710v1M925.5 710v1M926.5 710v1M927.5 710v1M928.5 710v1M929.5 710v1M930.5 710v1M931.5 710v1M932.5 710v1M933.5 710v1M934.5 711v2M935.5 713v1M936.5 714v1M937.5 715v2M938.5 717v1M939.5 718v1M940.5 719v2M941.5 721v1M942.5 721v1M943.5 721v1M944.5 721v1M945.5 720v1M946.5 720v1M947.5 720v1M948.5 720v1M949.5 720v1M950.5 720v1M951.5 720v1M952.5 720v1M953.5 720v1M954.5 719v1M955.5 719v1M956.5 719v1M957.5 719v1M958.5 719v1M959.5 719v1M960.5 719v1M961.5 718v1M962.5 718v1M963.5 718v1M964.5 718v1M965.5 718v1M966.5 718v1M967.5 718v1M968.5 719v1M969.5 719v1M970.5 719v1M971.5 720v1M972.5 720v1M973.5 720v2M974.5 722v2M975.5 724v2M976.5 726v3M977.5 729v2M978.5 731v3M979.5 734v2M980.5 736v2M981.5 738v2M982.5 739v1M983.5 739v1M984.5 739v1M985.5 740v1M986.5 740v1M987.5 740v1M988.5 740v1M989.5 740v1M990.5 741v2M991.5 743v1M992.5 744v2M993.5 746v1M994.5 747v2M995.5 749v1M996.5 750v2M997.5 752v1M998.5 752v1M999.5 751v1M1000.5 751v1M1001.5 750v1M1002.5 750v1M1003.5 750v1M1004.5 749v1M1005.5 749v1M1006.5 748v1M1007.5 748v1M1008.5 747v1M1009.5 746v1M1010.5 746v1M1011.5 745v1M1012.5 745v1M1013.5 744v1M1014.5 744v1M1015.5 743v1M1016.5 742v1M1017.5 742v1M1018.5 742v1M1019.5 741v1M1020.5 740v1M1021.5 740v1M1022.5 740v1M1023.5 740v1M1024.5 740v1M1025.5 740v1M1026.5 740v1M1027.5 740v1M1028.5 740v1M1029.5 740v1M1030.5 741v1M1031.5 741v1M1032.5 742v1M1033.5 742v1M1034.5 743v1M1035.5 744v1M1036.5 744v1M1037.5 745v1M1038.5 745v1M1039.5 745v1M1040.5 745v1M1041.5 746v1M1042.5 746v1M1043.5 746v1M1044.5 746v1M1045.5 746v1M1046.5 747v1M1047.5 747v1M1048.5 748v1M1049.5 748v1M1050.5 749v1M1051.5 750v1M1052.5 750v1M1053.5 751v1M1054.5 749v2M1055.5 747v2M1056.5 746v1M1057.5 744v2M1058.5 743v1M1059.5 741v2M1060.5 739v2M1061.5 738v1M1062.5 738v1M1063.5 738v1M1064.5 738v1M1065.5 738v1M1066.5 738v1M1067.5 738v1M1068.5 738v1M1069.5 738v1M1070.5 738v1M1071.5 739v1M1072.5 740v1M1073.5 740v1M1074.5 740v1M1075.5 741v1M1076.5 742v1M1077.5 742v1M1078.5 741v1M1079.5 739v2M1080.5 738v1M1081.5 737v1M1082.5 736v1M1083.5 734v2M1084.5 733v1M1085.5 732v1M1086.5 732v1M1087.5 733v1M1088.5 733v1M1089.5 734v1M1090.5 734v1M1091.5 734v1M1092.5 735v1M1093.5 735v1M1094.5 735v1M1095.5 734v1M1096.5 734v1M1097.5 734v1M1098.5 734v1M1099.5 734v1M1100.5 733v1M1101.5 733v1M1102.5 734v1M1103.5 735v1M1104.5 736v1M1105.5 737v2M1106.5 739v1M1107.5 740v1M1108.5 741v1M1109.5 742v1M1110.5 742v1M1111.5 742v1M1112.5 741v1M1113.5 741v1M1114.5 741v1M1115.5 740v1M1116.5 740v1M1117.5 740v1M1118.5 740v1M1119.5 740v1M1120.5 739v1M1121.5 739v1M1122.5 739v1M1123.5 738v1M1124.5 738v1M1125.5 738v1M1126.5 738v1M1127.5 739v1M1128.5 739v1M1129.5 740v1M1130.5 740v1M1131.5 740v1M1132.5 741v1M1133.5 741v1M1134.5 740v1M1135.5 740v1M1136.5 740v1M1137.5 739v1M1138.5 738v1M1139.5 738v1M1140.5 738v1M1141.5 737v1M1142.5 737v1M1143.5 738v1M1144.5 738v1M1145.5 738v1M1146.5 738v1M1147.5 738v1M1148.5 739v1M1149.5 739v1M1150.5 739v1M1151.5 740v1M1152.5 740v1M1153.5 740v1M1154.5 740v1M1155.5 740v1M1156.5 741v1M1157.5 741v1M1158.5 740v1M1159.5 740v1M1160.5 739v1M1161.5 738v1M1162.5 738v1M1163.5 737v1M1164.5 737v1M1165.5 736v1M1166.5 736v1M1167.5 736v1M1168.5 736v1M1169.5 736v1M1170.5 736v1M1171.5 736v1M1172.5 736v1M1173.5 736v1M1174.5 736v1M1175.5 736v1M1176.5 736v1M1177.5 736v1M1178.5 735v1M1179.5 735v1M1180.5 735v1M1181.5 735v1M1182.5 736v1M1183.5 736v1M1184.5 737v1M1185.5 738v1M1186.5 739v1M1187.5 740v1M1188.5 740v1M1189.5 741v1M1190.5 741v1M1191.5 741v1M1192.5 741v1M1193.5 742v1M1194.5 742v1M1195.5 742v1M1196.5 742v1M1197.5 742v1M1198.5 741v1M1199.5 740v1M1200.5 740v1M1201.5 739v1M1202.5 738v1M1203.5 738v1M1204.5 737v1M1205.5 736v1M1206.5 736v1M1207.5 736v1M1208.5 736v1M1209.5 736v1M1210.5 736v1M1211.5 736v1M1212.5 736v1M1213.5 736v1" fill="none" stroke="#1e90ff" stroke-width="1"/>
<rect x="1421" y="672" width="1" height="1" fill="#000"/>
<rect x="1421" y="799" width="1" height="1" fill="#000"/>
<rect x="5" y="801" width="1" height="3" fill="#000"/>
<rect x="69" y="801" width="1" height="3" fill="#000"/>
<rect x="133" y="801" width="1" height="3" fill="#000"/>
<rect x="197" y="801" width="1" height="3" fill="#000"/>
<rect x="261" y="801" width="1" height="3" fill="#000"/>
<rect x="325" y="801" width="1" height="3" fill="#000"/>
<rect x="389" y="801" width="1" height="3" fill="#000"/>
<rect x="453" y="801" width="1" height="3" fill="#000"/>
<rect x="517" y="801" width="1" height="3" fill="#000"/>
<rect x="581" y="801" width="1" height="3" fill="#000"/>
<rect x="645" y="801" width="1" height="3" fill="#000"/>
<rect x="709" y="801" width="1" height="3" fill="#000"/>
<rect x="773" y="801" width="1" height="3" fill="#000"/>
<rect x="837" y="801" width="1" height="3" fill="#000"/>
<rect x="901" y="801" width="1" height="3" fill="#000"/>
<rect x="965" y="801" width="1" height="3" fill="#000"/>
<rect x="1029" y="801" width="1" height="3" fill="#000"/>
<rect x="1093" y="801" width="1" height="3" fill="#000"/>
<rect x="1157" y="801" width="1" height="3" fill="#000"/>
</g>
</svg>
<div class="t pl" style="top:28px">6.97200</div>
<div class="t pl" style="top:61px">6.95275</div>
<div class="t pl" style="top:94px">6.93295</div>
<div class="t pl" style="top:127px">6.91370</div>
<div class="t pl" style="top:160px">6.89445</div>
<div class="t pl" style="top:193px">6.87520</div>
<div class="t pl" style="top:226px">6.85595</div>
<div class="t pl" style="top:259px">6.83670</div>
<div class="t pl" style="top:292px">6.81745</div>
<div class="t pl" style="top:325px">6.79820</div>
<div class="t pl" style="top:358px">6.77895</div>
<div class="t pl" style="top:391px">6.75970</div>
<div class="t pl" style="top:424px">6.74045</div>
<div class="t pl" style="top:457px">6.72120</div>
<div class="t pl" style="top:490px">6.70195</div>
<div class="t pl" style="top:523px">6.68270</div>
<div class="t pl" style="top:556px">6.66345</div>
<div class="box" style="top:45px;background:#ff0000"><span>6.96044</span></div>
<div class="box" style="top:147px;background:#00ff00"><span>6.90100</span></div>
<div class="box" style="top:183px;background:#000000"><span>6.88080</span></div>
<div class="box" style="top:284px;background:#0000ff"><span>6.82103</span></div>
<div class="box" style="top:392px;background:#0000ff"><span>6.75804</span></div>
<div class="t pl" style="top:568px;left:1423.2px;letter-spacing:-0.5px">0.060342</div>
<div class="t pl" style="top:623px;left:1423.2px">0.00</div>
<div class="t pl" style="top:658px;left:1423.2px">-0.040415</div>
<div class="t pl" style="top:674px;left:1423.2px">100</div>
<div class="t pl" style="top:706px;left:1423.2px">70</div>
<div class="t pl" style="top:757px;left:1423.2px">30</div>
<div class="t pl" style="top:790px;left:1423.2px">0</div>
<svg class="a" style="left:8px;top:31px" width="8" height="5"><polygon points="0,4.5 7.5,4.5 3.75,0" fill="#000"/></svg>
<div class="t" style="left:19.6px;top:28px;letter-spacing:-0.1px">USDCNH-,Daily</div>
<div class="t" style="left:94.4px;top:28px;letter-spacing:-0.3px">6.88024</div>
<div class="t" style="left:130.4px;top:28px;letter-spacing:-0.3px">6.88126</div>
<div class="t" style="left:166.4px;top:28px;letter-spacing:-0.3px">6.87827</div>
<div class="t" style="left:202.4px;top:28px;letter-spacing:-0.3px">6.88080</div>
<div class="t" style="left:8.6px;top:570px;letter-spacing:-0.31px">MACD(12,26,9) -0.002212 -0.002837</div>
<div class="t" style="left:8.6px;top:675px;letter-spacing:-0.28px">RSI(14) 49.6864</div>
<div class="t" style="left:3.4px;top:805px;letter-spacing:-0.4px">27 Dec 2018</div>
<div class="t" style="left:67.4px;top:805px;letter-spacing:-0.4px">8 Jan 2019</div>
<div class="t" style="left:131.4px;top:805px;letter-spacing:-0.4px">18 Jan 2019</div>
<div class="t" style="left:195.4px;top:805px;letter-spacing:-0.4px">30 Jan 2019</div>
<div class="t" style="left:259.4px;top:805px;letter-spacing:-0.4px">11 Feb 2019</div>
<div class="t" style="left:323.4px;top:805px;letter-spacing:-0.4px">21 Feb 2019</div>
<div class="t" style="left:387.4px;top:805px;letter-spacing:-0.4px">5 Mar 2019</div>
<div class="t" style="left:451.4px;top:805px;letter-spacing:-0.4px">15 Mar 2019</div>
<div class="t" style="left:515.4px;top:805px;letter-spacing:-0.4px">27 Mar 2019</div>
<div class="t" style="left:579.4px;top:805px;letter-spacing:-0.4px">8 Apr 2019</div>
<div class="t" style="left:643.4px;top:805px;letter-spacing:-0.4px">18 Apr 2019</div>
<div class="t" style="left:707.4px;top:805px;letter-spacing:-0.4px">1 May 2019</div>
<div class="t" style="left:771.4px;top:805px;letter-spacing:-0.4px">13 May 2019</div>
<div class="t" style="left:835.4px;top:805px;letter-spacing:-0.4px">23 May 2019</div>
<div class="t" style="left:899.4px;top:805px;letter-spacing:-0.4px">4 Jun 2019</div>
<div class="t" style="left:963.4px;top:805px;letter-spacing:-0.4px">14 Jun 2019</div>
<div class="t" style="left:1027.4px;top:805px;letter-spacing:-0.4px">26 Jun 2019</div>
<div class="t" style="left:1091.4px;top:805px;letter-spacing:-0.4px">8 Jul 2019</div>
<div class="t" style="left:1155.4px;top:805px;letter-spacing:-0.4px">18 Jul 2019</div>
<div class="a" style="left:6px;top:43px;width:223px;height:66px;background:#fff"></div>
<div class="a" style="left:8px;top:44px;width:52px;height:25px;background:linear-gradient(#5555ff,#3a3aef);border:1px solid #2828d0;border-bottom:0;box-sizing:border-box"></div>
<div class="a" style="left:175px;top:44px;width:52px;height:25px;background:linear-gradient(#5555ff,#3a3aef);border:1px solid #2828d0;border-bottom:0;box-sizing:border-box"></div>
<div class="a" style="left:8px;top:68px;width:109px;height:40px;background:linear-gradient(#3a3aee,#1a1ad0 45%,#0000a8);border:1px solid #1818b8;border-top:0;box-sizing:border-box"></div>
<div class="a" style="left:119px;top:68px;width:108px;height:40px;background:linear-gradient(#3a3aee,#1a1ad0 45%,#0000a8);border:1px solid #1818b8;border-top:0;box-sizing:border-box"></div>
<div class="a" style="left:60px;top:68px;width:57px;height:1px;background:#1818b8"></div>
<div class="a" style="left:119px;top:68px;width:56px;height:1px;background:#1818b8"></div>
<div class="a" style="left:12px;top:67px;width:44px;height:1px;background:#2020c0"></div>
<div class="a" style="left:12px;top:68px;width:44px;height:1px;background:#8f8fff"></div>
<div class="a" style="left:179px;top:67px;width:44px;height:1px;background:#2020c0"></div>
<div class="a" style="left:179px;top:68px;width:44px;height:1px;background:#8f8fff"></div>
<div class="a" style="left:20px;top:49px;font-size:12px;line-height:14px;color:#fff;letter-spacing:-0.9px">SELL</div>
<div class="a" style="left:188px;top:49px;font-size:12px;line-height:14px;color:#fff;letter-spacing:-0.5px">BUY</div>
<div class="a" style="left:62px;top:44px;width:111px;height:22px;background:#fff;border:1px solid #abadb3;box-sizing:border-box"></div>
<div class="a" style="left:63px;top:45px;width:20px;height:20px;background:linear-gradient(#efefef,#e4e4e4 48%,#d2d2d2 52%,#cacaca);border:1px solid #c4c4c4;box-sizing:border-box"></div>
<div class="a" style="left:152px;top:45px;width:20px;height:20px;background:linear-gradient(#efefef,#e4e4e4 48%,#d2d2d2 52%,#cacaca);border:1px solid #c4c4c4;box-sizing:border-box"></div>
<div class="a" style="left:83px;top:45px;width:1px;height:20px;background:#b0b0b8"></div>
<div class="a" style="left:151px;top:45px;width:1px;height:20px;background:#b0b0b8"></div>
<svg class="a" style="left:70px;top:53px" width="6" height="4"><polygon points="0,0 5.5,0 2.75,3.5" fill="#5a6ec8"/></svg>
<svg class="a" style="left:159px;top:53px" width="6" height="4"><polygon points="0,3.5 5.5,3.5 2.75,0" fill="#5a6ec8"/></svg>
<div class="a" style="left:100px;top:48px;width:48px;text-align:right;font-size:12px;line-height:14px;color:#000">1.00</div>
<div class="a" style="left:27.6px;top:88px;font-size:12.5px;line-height:14px;font-weight:bold;color:#fff">6.88</div>
<div class="a" style="left:54.5px;top:68px;font-size:34px;line-height:38px;color:#fff;letter-spacing:-1px">08</div>
<div class="a" style="left:94.6px;top:73px;font-size:13px;line-height:14px;font-weight:bold;color:#fff">0</div>
<div class="a" style="left:137.6px;top:88px;font-size:12.5px;line-height:14px;font-weight:bold;color:#fff">6.88</div>
<div class="a" style="left:165.5px;top:68px;font-size:34px;line-height:38px;color:#fff;letter-spacing:-1px">29</div>
<div class="a" style="left:205.6px;top:73px;font-size:13px;line-height:14px;font-weight:bold;color:#fff">2</div>

<div class="a" style="left:2px;top:821px;width:1461px;height:1px;background:#e3e3e3"></div>
<div class="a" style="left:0;top:823px;width:1463px;height:1px;background:#000"></div>
<div class="a" style="left:2px;top:824px;width:1461px;height:19px;background:#f0f0f0"></div>
<div class="a" style="left:1px;top:824px;width:1px;height:19px;background:#696969"></div>
<div class="a" style="left:2px;top:824px;width:1461px;height:1px;background:#fbfbfb"></div>
<div class="a" style="left:0;top:843px;width:1463px;height:1px;background:#fff"></div>
<div class="a" style="left:438px;top:823px;width:112px;height:19px;background:#fff;border:1px solid #000;border-top:0;box-sizing:border-box"></div>
<div class="a" style="left:439px;top:823px;width:110px;height:1px;background:#fff"></div>
<div class="a" style="left:550px;top:825px;width:1px;height:18px;background:#9a9a9a"></div>
<div class="a" style="left:440px;top:842px;width:110px;height:1px;background:#c4c4c4"></div>
<div class="tab" style="left:16.7px;color:#6a6a6a;letter-spacing:0.12px">EURUSD-,Daily</div>
<div class="tab" style="left:123.5px;color:#6a6a6a;letter-spacing:0.22px">AUDUSD-,Daily</div>
<div class="tab" style="left:234.1px;color:#6a6a6a;letter-spacing:0.07px">USDCHF-,Daily</div>
<div class="tab" style="left:341.1px;color:#6a6a6a;letter-spacing:0.17px">USDCAD-,Daily</div>
<div class="tab" style="left:449.7px;color:#000;letter-spacing:0.23px">USDCNH-,Daily</div>
<div class="tab" style="left:560.6px;color:#6a6a6a;letter-spacing:0.08px">EURCHF-,Weekly</div>
<div class="tab" style="left:681.3px;color:#6a6a6a;letter-spacing:0.27px">XAUUSD-,Weekly</div>
<div class="tab" style="left:804.3px;color:#6a6a6a;letter-spacing:0.02px">GBPUSD-,H1</div>
<div class="tab" style="left:900.7px;color:#6a6a6a;letter-spacing:0.5px">UKOil-,H1</div>
<div class="tab" style="left:979.3px;color:#6a6a6a;letter-spacing:0.43px">USDX-,Weekly</div>
<div class="sep" style="left:114px"></div>
<div class="sep" style="left:222px"></div>
<div class="sep" style="left:330px"></div>
<div class="sep" style="left:670px"></div>
<div class="sep" style="left:794px"></div>
<div class="sep" style="left:890px"></div>
<div class="sep" style="left:970px"></div>
<div class="sep" style="left:1074px"></div>
<svg class="a" style="left:1435px;top:828px" width="24" height="8"><polygon points="4,0 4,7 0,3.5" fill="#a0a0a0"/><polygon points="19,0 19,7 23,3.5" fill="#a0a0a0"/></svg>
</body></html>
